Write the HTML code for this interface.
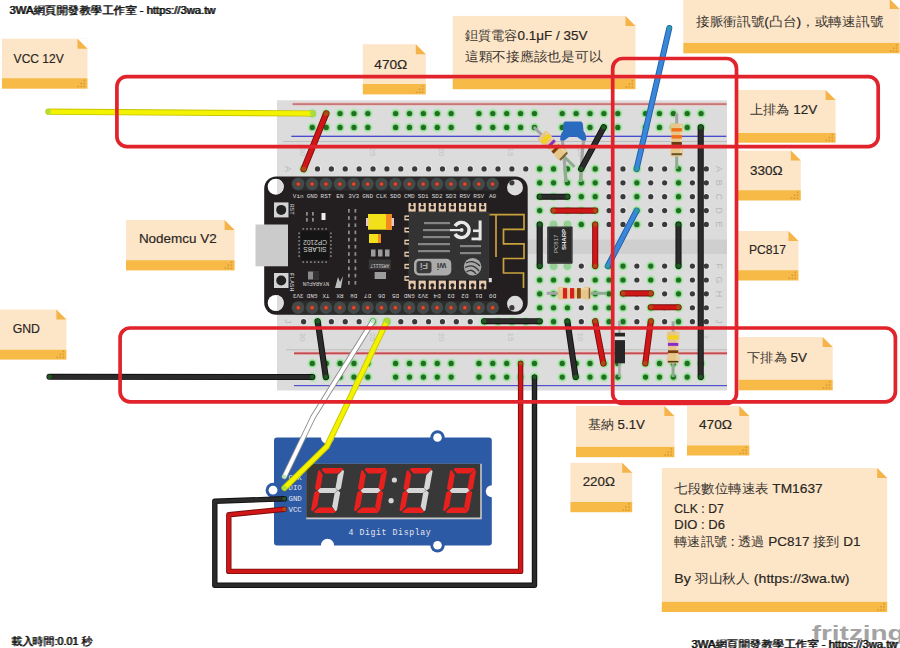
<!DOCTYPE html>
<html><head><meta charset="utf-8"><style>
html,body{margin:0;padding:0;background:#fff;width:900px;height:648px;overflow:hidden}
svg{display:block}

</style></head><body>
<svg width="900" height="648" viewBox="0 0 900 648" font-family="Liberation Sans, sans-serif">
<rect width="900" height="648" fill="#FFFFFF"/>
<text x="811.7" y="639.6" font-size="20.5" font-weight="bold" fill="#A3A3A3" textLength="93" lengthAdjust="spacingAndGlyphs">fritzing</text>
<rect x="277" y="100.3" width="450" height="290.2" fill="#DCDCDC"/>
<rect x="277" y="239.5" width="450" height="14.5" fill="#CFCFCF"/>
<rect x="292.6" y="102.4" width="434" height="3.4" fill="#EFC4C4"/>
<rect x="292.6" y="103.3" width="434" height="1.6" fill="#C07070"/>
<rect x="291.3" y="135.7" width="435" height="1.2" fill="#3A3ACC"/>
<rect x="283" y="141" width="444" height="1" fill="#BDBDBD"/>
<rect x="286" y="349.3" width="441" height="1" fill="#BDBDBD"/>
<rect x="294" y="351.6" width="433" height="3.4" fill="#F0B8B8"/>
<rect x="294" y="352.4" width="433" height="1.8" fill="#C04C54"/>
<rect x="294" y="385" width="433" height="1.2" fill="#5050CC"/>
<circle cx="312.30" cy="113.50" r="5" fill="#BEE6BE"/>
<circle cx="312.30" cy="113.50" r="3.8" fill="#8FD88F"/>
<circle cx="312.30" cy="113.50" r="2.6" fill="#1F6E22"/>
<circle cx="312.30" cy="127.40" r="5" fill="#BEE6BE"/>
<circle cx="312.30" cy="127.40" r="3.8" fill="#8FD88F"/>
<circle cx="312.30" cy="127.40" r="2.6" fill="#1F6E22"/>
<circle cx="312.30" cy="363.40" r="5" fill="#BEE6BE"/>
<circle cx="312.30" cy="363.40" r="3.8" fill="#8FD88F"/>
<circle cx="312.30" cy="363.40" r="2.6" fill="#1F6E22"/>
<circle cx="312.30" cy="377.10" r="5" fill="#BEE6BE"/>
<circle cx="312.30" cy="377.10" r="3.8" fill="#8FD88F"/>
<circle cx="312.30" cy="377.10" r="2.6" fill="#1F6E22"/>
<circle cx="326.19" cy="113.50" r="5" fill="#BEE6BE"/>
<circle cx="326.19" cy="113.50" r="3.8" fill="#8FD88F"/>
<circle cx="326.19" cy="113.50" r="2.6" fill="#1F6E22"/>
<circle cx="326.19" cy="127.40" r="5" fill="#BEE6BE"/>
<circle cx="326.19" cy="127.40" r="3.8" fill="#8FD88F"/>
<circle cx="326.19" cy="127.40" r="2.6" fill="#1F6E22"/>
<circle cx="326.19" cy="363.40" r="5" fill="#BEE6BE"/>
<circle cx="326.19" cy="363.40" r="3.8" fill="#8FD88F"/>
<circle cx="326.19" cy="363.40" r="2.6" fill="#1F6E22"/>
<circle cx="326.19" cy="377.10" r="5" fill="#BEE6BE"/>
<circle cx="326.19" cy="377.10" r="3.8" fill="#8FD88F"/>
<circle cx="326.19" cy="377.10" r="2.6" fill="#1F6E22"/>
<circle cx="340.07" cy="113.50" r="5" fill="#BEE6BE"/>
<circle cx="340.07" cy="113.50" r="3.8" fill="#8FD88F"/>
<circle cx="340.07" cy="113.50" r="2.6" fill="#1F6E22"/>
<circle cx="340.07" cy="127.40" r="5" fill="#BEE6BE"/>
<circle cx="340.07" cy="127.40" r="3.8" fill="#8FD88F"/>
<circle cx="340.07" cy="127.40" r="2.6" fill="#1F6E22"/>
<circle cx="340.07" cy="363.40" r="5" fill="#BEE6BE"/>
<circle cx="340.07" cy="363.40" r="3.8" fill="#8FD88F"/>
<circle cx="340.07" cy="363.40" r="2.6" fill="#1F6E22"/>
<circle cx="340.07" cy="377.10" r="5" fill="#BEE6BE"/>
<circle cx="340.07" cy="377.10" r="3.8" fill="#8FD88F"/>
<circle cx="340.07" cy="377.10" r="2.6" fill="#1F6E22"/>
<circle cx="353.96" cy="113.50" r="5" fill="#BEE6BE"/>
<circle cx="353.96" cy="113.50" r="3.8" fill="#8FD88F"/>
<circle cx="353.96" cy="113.50" r="2.6" fill="#1F6E22"/>
<circle cx="353.96" cy="127.40" r="5" fill="#BEE6BE"/>
<circle cx="353.96" cy="127.40" r="3.8" fill="#8FD88F"/>
<circle cx="353.96" cy="127.40" r="2.6" fill="#1F6E22"/>
<circle cx="353.96" cy="363.40" r="5" fill="#BEE6BE"/>
<circle cx="353.96" cy="363.40" r="3.8" fill="#8FD88F"/>
<circle cx="353.96" cy="363.40" r="2.6" fill="#1F6E22"/>
<circle cx="353.96" cy="377.10" r="5" fill="#BEE6BE"/>
<circle cx="353.96" cy="377.10" r="3.8" fill="#8FD88F"/>
<circle cx="353.96" cy="377.10" r="2.6" fill="#1F6E22"/>
<circle cx="367.84" cy="113.50" r="5" fill="#BEE6BE"/>
<circle cx="367.84" cy="113.50" r="3.8" fill="#8FD88F"/>
<circle cx="367.84" cy="113.50" r="2.6" fill="#1F6E22"/>
<circle cx="367.84" cy="127.40" r="5" fill="#BEE6BE"/>
<circle cx="367.84" cy="127.40" r="3.8" fill="#8FD88F"/>
<circle cx="367.84" cy="127.40" r="2.6" fill="#1F6E22"/>
<circle cx="367.84" cy="363.40" r="5" fill="#BEE6BE"/>
<circle cx="367.84" cy="363.40" r="3.8" fill="#8FD88F"/>
<circle cx="367.84" cy="363.40" r="2.6" fill="#1F6E22"/>
<circle cx="367.84" cy="377.10" r="5" fill="#BEE6BE"/>
<circle cx="367.84" cy="377.10" r="3.8" fill="#8FD88F"/>
<circle cx="367.84" cy="377.10" r="2.6" fill="#1F6E22"/>
<circle cx="395.62" cy="113.50" r="5" fill="#BEE6BE"/>
<circle cx="395.62" cy="113.50" r="3.8" fill="#8FD88F"/>
<circle cx="395.62" cy="113.50" r="2.6" fill="#1F6E22"/>
<circle cx="395.62" cy="127.40" r="5" fill="#BEE6BE"/>
<circle cx="395.62" cy="127.40" r="3.8" fill="#8FD88F"/>
<circle cx="395.62" cy="127.40" r="2.6" fill="#1F6E22"/>
<circle cx="395.62" cy="363.40" r="5" fill="#BEE6BE"/>
<circle cx="395.62" cy="363.40" r="3.8" fill="#8FD88F"/>
<circle cx="395.62" cy="363.40" r="2.6" fill="#1F6E22"/>
<circle cx="395.62" cy="377.10" r="5" fill="#BEE6BE"/>
<circle cx="395.62" cy="377.10" r="3.8" fill="#8FD88F"/>
<circle cx="395.62" cy="377.10" r="2.6" fill="#1F6E22"/>
<circle cx="409.50" cy="113.50" r="5" fill="#BEE6BE"/>
<circle cx="409.50" cy="113.50" r="3.8" fill="#8FD88F"/>
<circle cx="409.50" cy="113.50" r="2.6" fill="#1F6E22"/>
<circle cx="409.50" cy="127.40" r="5" fill="#BEE6BE"/>
<circle cx="409.50" cy="127.40" r="3.8" fill="#8FD88F"/>
<circle cx="409.50" cy="127.40" r="2.6" fill="#1F6E22"/>
<circle cx="409.50" cy="363.40" r="5" fill="#BEE6BE"/>
<circle cx="409.50" cy="363.40" r="3.8" fill="#8FD88F"/>
<circle cx="409.50" cy="363.40" r="2.6" fill="#1F6E22"/>
<circle cx="409.50" cy="377.10" r="5" fill="#BEE6BE"/>
<circle cx="409.50" cy="377.10" r="3.8" fill="#8FD88F"/>
<circle cx="409.50" cy="377.10" r="2.6" fill="#1F6E22"/>
<circle cx="423.39" cy="113.50" r="5" fill="#BEE6BE"/>
<circle cx="423.39" cy="113.50" r="3.8" fill="#8FD88F"/>
<circle cx="423.39" cy="113.50" r="2.6" fill="#1F6E22"/>
<circle cx="423.39" cy="127.40" r="5" fill="#BEE6BE"/>
<circle cx="423.39" cy="127.40" r="3.8" fill="#8FD88F"/>
<circle cx="423.39" cy="127.40" r="2.6" fill="#1F6E22"/>
<circle cx="423.39" cy="363.40" r="5" fill="#BEE6BE"/>
<circle cx="423.39" cy="363.40" r="3.8" fill="#8FD88F"/>
<circle cx="423.39" cy="363.40" r="2.6" fill="#1F6E22"/>
<circle cx="423.39" cy="377.10" r="5" fill="#BEE6BE"/>
<circle cx="423.39" cy="377.10" r="3.8" fill="#8FD88F"/>
<circle cx="423.39" cy="377.10" r="2.6" fill="#1F6E22"/>
<circle cx="437.27" cy="113.50" r="5" fill="#BEE6BE"/>
<circle cx="437.27" cy="113.50" r="3.8" fill="#8FD88F"/>
<circle cx="437.27" cy="113.50" r="2.6" fill="#1F6E22"/>
<circle cx="437.27" cy="127.40" r="5" fill="#BEE6BE"/>
<circle cx="437.27" cy="127.40" r="3.8" fill="#8FD88F"/>
<circle cx="437.27" cy="127.40" r="2.6" fill="#1F6E22"/>
<circle cx="437.27" cy="363.40" r="5" fill="#BEE6BE"/>
<circle cx="437.27" cy="363.40" r="3.8" fill="#8FD88F"/>
<circle cx="437.27" cy="363.40" r="2.6" fill="#1F6E22"/>
<circle cx="437.27" cy="377.10" r="5" fill="#BEE6BE"/>
<circle cx="437.27" cy="377.10" r="3.8" fill="#8FD88F"/>
<circle cx="437.27" cy="377.10" r="2.6" fill="#1F6E22"/>
<circle cx="451.16" cy="113.50" r="5" fill="#BEE6BE"/>
<circle cx="451.16" cy="113.50" r="3.8" fill="#8FD88F"/>
<circle cx="451.16" cy="113.50" r="2.6" fill="#1F6E22"/>
<circle cx="451.16" cy="127.40" r="5" fill="#BEE6BE"/>
<circle cx="451.16" cy="127.40" r="3.8" fill="#8FD88F"/>
<circle cx="451.16" cy="127.40" r="2.6" fill="#1F6E22"/>
<circle cx="451.16" cy="363.40" r="5" fill="#BEE6BE"/>
<circle cx="451.16" cy="363.40" r="3.8" fill="#8FD88F"/>
<circle cx="451.16" cy="363.40" r="2.6" fill="#1F6E22"/>
<circle cx="451.16" cy="377.10" r="5" fill="#BEE6BE"/>
<circle cx="451.16" cy="377.10" r="3.8" fill="#8FD88F"/>
<circle cx="451.16" cy="377.10" r="2.6" fill="#1F6E22"/>
<circle cx="478.93" cy="113.50" r="5" fill="#BEE6BE"/>
<circle cx="478.93" cy="113.50" r="3.8" fill="#8FD88F"/>
<circle cx="478.93" cy="113.50" r="2.6" fill="#1F6E22"/>
<circle cx="478.93" cy="127.40" r="5" fill="#BEE6BE"/>
<circle cx="478.93" cy="127.40" r="3.8" fill="#8FD88F"/>
<circle cx="478.93" cy="127.40" r="2.6" fill="#1F6E22"/>
<circle cx="478.93" cy="363.40" r="5" fill="#BEE6BE"/>
<circle cx="478.93" cy="363.40" r="3.8" fill="#8FD88F"/>
<circle cx="478.93" cy="363.40" r="2.6" fill="#1F6E22"/>
<circle cx="478.93" cy="377.10" r="5" fill="#BEE6BE"/>
<circle cx="478.93" cy="377.10" r="3.8" fill="#8FD88F"/>
<circle cx="478.93" cy="377.10" r="2.6" fill="#1F6E22"/>
<circle cx="492.82" cy="113.50" r="5" fill="#BEE6BE"/>
<circle cx="492.82" cy="113.50" r="3.8" fill="#8FD88F"/>
<circle cx="492.82" cy="113.50" r="2.6" fill="#1F6E22"/>
<circle cx="492.82" cy="127.40" r="5" fill="#BEE6BE"/>
<circle cx="492.82" cy="127.40" r="3.8" fill="#8FD88F"/>
<circle cx="492.82" cy="127.40" r="2.6" fill="#1F6E22"/>
<circle cx="492.82" cy="363.40" r="5" fill="#BEE6BE"/>
<circle cx="492.82" cy="363.40" r="3.8" fill="#8FD88F"/>
<circle cx="492.82" cy="363.40" r="2.6" fill="#1F6E22"/>
<circle cx="492.82" cy="377.10" r="5" fill="#BEE6BE"/>
<circle cx="492.82" cy="377.10" r="3.8" fill="#8FD88F"/>
<circle cx="492.82" cy="377.10" r="2.6" fill="#1F6E22"/>
<circle cx="506.70" cy="113.50" r="5" fill="#BEE6BE"/>
<circle cx="506.70" cy="113.50" r="3.8" fill="#8FD88F"/>
<circle cx="506.70" cy="113.50" r="2.6" fill="#1F6E22"/>
<circle cx="506.70" cy="127.40" r="5" fill="#BEE6BE"/>
<circle cx="506.70" cy="127.40" r="3.8" fill="#8FD88F"/>
<circle cx="506.70" cy="127.40" r="2.6" fill="#1F6E22"/>
<circle cx="506.70" cy="363.40" r="5" fill="#BEE6BE"/>
<circle cx="506.70" cy="363.40" r="3.8" fill="#8FD88F"/>
<circle cx="506.70" cy="363.40" r="2.6" fill="#1F6E22"/>
<circle cx="506.70" cy="377.10" r="5" fill="#BEE6BE"/>
<circle cx="506.70" cy="377.10" r="3.8" fill="#8FD88F"/>
<circle cx="506.70" cy="377.10" r="2.6" fill="#1F6E22"/>
<circle cx="520.59" cy="113.50" r="5" fill="#BEE6BE"/>
<circle cx="520.59" cy="113.50" r="3.8" fill="#8FD88F"/>
<circle cx="520.59" cy="113.50" r="2.6" fill="#1F6E22"/>
<circle cx="520.59" cy="127.40" r="5" fill="#BEE6BE"/>
<circle cx="520.59" cy="127.40" r="3.8" fill="#8FD88F"/>
<circle cx="520.59" cy="127.40" r="2.6" fill="#1F6E22"/>
<circle cx="520.59" cy="363.40" r="5" fill="#BEE6BE"/>
<circle cx="520.59" cy="363.40" r="3.8" fill="#8FD88F"/>
<circle cx="520.59" cy="363.40" r="2.6" fill="#1F6E22"/>
<circle cx="520.59" cy="377.10" r="5" fill="#BEE6BE"/>
<circle cx="520.59" cy="377.10" r="3.8" fill="#8FD88F"/>
<circle cx="520.59" cy="377.10" r="2.6" fill="#1F6E22"/>
<circle cx="534.48" cy="113.50" r="5" fill="#BEE6BE"/>
<circle cx="534.48" cy="113.50" r="3.8" fill="#8FD88F"/>
<circle cx="534.48" cy="113.50" r="2.6" fill="#1F6E22"/>
<circle cx="534.48" cy="127.40" r="5" fill="#BEE6BE"/>
<circle cx="534.48" cy="127.40" r="3.8" fill="#8FD88F"/>
<circle cx="534.48" cy="127.40" r="2.6" fill="#1F6E22"/>
<circle cx="534.48" cy="363.40" r="5" fill="#BEE6BE"/>
<circle cx="534.48" cy="363.40" r="3.8" fill="#8FD88F"/>
<circle cx="534.48" cy="363.40" r="2.6" fill="#1F6E22"/>
<circle cx="534.48" cy="377.10" r="5" fill="#BEE6BE"/>
<circle cx="534.48" cy="377.10" r="3.8" fill="#8FD88F"/>
<circle cx="534.48" cy="377.10" r="2.6" fill="#1F6E22"/>
<circle cx="562.25" cy="113.50" r="5" fill="#BEE6BE"/>
<circle cx="562.25" cy="113.50" r="3.8" fill="#8FD88F"/>
<circle cx="562.25" cy="113.50" r="2.6" fill="#1F6E22"/>
<circle cx="562.25" cy="127.40" r="5" fill="#BEE6BE"/>
<circle cx="562.25" cy="127.40" r="3.8" fill="#8FD88F"/>
<circle cx="562.25" cy="127.40" r="2.6" fill="#1F6E22"/>
<circle cx="562.25" cy="363.40" r="5" fill="#BEE6BE"/>
<circle cx="562.25" cy="363.40" r="3.8" fill="#8FD88F"/>
<circle cx="562.25" cy="363.40" r="2.6" fill="#1F6E22"/>
<circle cx="562.25" cy="377.10" r="5" fill="#BEE6BE"/>
<circle cx="562.25" cy="377.10" r="3.8" fill="#8FD88F"/>
<circle cx="562.25" cy="377.10" r="2.6" fill="#1F6E22"/>
<circle cx="576.13" cy="113.50" r="5" fill="#BEE6BE"/>
<circle cx="576.13" cy="113.50" r="3.8" fill="#8FD88F"/>
<circle cx="576.13" cy="113.50" r="2.6" fill="#1F6E22"/>
<circle cx="576.13" cy="127.40" r="5" fill="#BEE6BE"/>
<circle cx="576.13" cy="127.40" r="3.8" fill="#8FD88F"/>
<circle cx="576.13" cy="127.40" r="2.6" fill="#1F6E22"/>
<circle cx="576.13" cy="363.40" r="5" fill="#BEE6BE"/>
<circle cx="576.13" cy="363.40" r="3.8" fill="#8FD88F"/>
<circle cx="576.13" cy="363.40" r="2.6" fill="#1F6E22"/>
<circle cx="576.13" cy="377.10" r="5" fill="#BEE6BE"/>
<circle cx="576.13" cy="377.10" r="3.8" fill="#8FD88F"/>
<circle cx="576.13" cy="377.10" r="2.6" fill="#1F6E22"/>
<circle cx="590.02" cy="113.50" r="5" fill="#BEE6BE"/>
<circle cx="590.02" cy="113.50" r="3.8" fill="#8FD88F"/>
<circle cx="590.02" cy="113.50" r="2.6" fill="#1F6E22"/>
<circle cx="590.02" cy="127.40" r="5" fill="#BEE6BE"/>
<circle cx="590.02" cy="127.40" r="3.8" fill="#8FD88F"/>
<circle cx="590.02" cy="127.40" r="2.6" fill="#1F6E22"/>
<circle cx="590.02" cy="363.40" r="5" fill="#BEE6BE"/>
<circle cx="590.02" cy="363.40" r="3.8" fill="#8FD88F"/>
<circle cx="590.02" cy="363.40" r="2.6" fill="#1F6E22"/>
<circle cx="590.02" cy="377.10" r="5" fill="#BEE6BE"/>
<circle cx="590.02" cy="377.10" r="3.8" fill="#8FD88F"/>
<circle cx="590.02" cy="377.10" r="2.6" fill="#1F6E22"/>
<circle cx="603.91" cy="113.50" r="5" fill="#BEE6BE"/>
<circle cx="603.91" cy="113.50" r="3.8" fill="#8FD88F"/>
<circle cx="603.91" cy="113.50" r="2.6" fill="#1F6E22"/>
<circle cx="603.91" cy="127.40" r="5" fill="#BEE6BE"/>
<circle cx="603.91" cy="127.40" r="3.8" fill="#8FD88F"/>
<circle cx="603.91" cy="127.40" r="2.6" fill="#1F6E22"/>
<circle cx="603.91" cy="363.40" r="5" fill="#BEE6BE"/>
<circle cx="603.91" cy="363.40" r="3.8" fill="#8FD88F"/>
<circle cx="603.91" cy="363.40" r="2.6" fill="#1F6E22"/>
<circle cx="603.91" cy="377.10" r="5" fill="#BEE6BE"/>
<circle cx="603.91" cy="377.10" r="3.8" fill="#8FD88F"/>
<circle cx="603.91" cy="377.10" r="2.6" fill="#1F6E22"/>
<circle cx="617.79" cy="113.50" r="5" fill="#BEE6BE"/>
<circle cx="617.79" cy="113.50" r="3.8" fill="#8FD88F"/>
<circle cx="617.79" cy="113.50" r="2.6" fill="#1F6E22"/>
<circle cx="617.79" cy="127.40" r="5" fill="#BEE6BE"/>
<circle cx="617.79" cy="127.40" r="3.8" fill="#8FD88F"/>
<circle cx="617.79" cy="127.40" r="2.6" fill="#1F6E22"/>
<circle cx="617.79" cy="363.40" r="5" fill="#BEE6BE"/>
<circle cx="617.79" cy="363.40" r="3.8" fill="#8FD88F"/>
<circle cx="617.79" cy="363.40" r="2.6" fill="#1F6E22"/>
<circle cx="617.79" cy="377.10" r="5" fill="#BEE6BE"/>
<circle cx="617.79" cy="377.10" r="3.8" fill="#8FD88F"/>
<circle cx="617.79" cy="377.10" r="2.6" fill="#1F6E22"/>
<circle cx="645.56" cy="113.50" r="5" fill="#BEE6BE"/>
<circle cx="645.56" cy="113.50" r="3.8" fill="#8FD88F"/>
<circle cx="645.56" cy="113.50" r="2.6" fill="#1F6E22"/>
<circle cx="645.56" cy="127.40" r="5" fill="#BEE6BE"/>
<circle cx="645.56" cy="127.40" r="3.8" fill="#8FD88F"/>
<circle cx="645.56" cy="127.40" r="2.6" fill="#1F6E22"/>
<circle cx="645.56" cy="363.40" r="5" fill="#BEE6BE"/>
<circle cx="645.56" cy="363.40" r="3.8" fill="#8FD88F"/>
<circle cx="645.56" cy="363.40" r="2.6" fill="#1F6E22"/>
<circle cx="645.56" cy="377.10" r="5" fill="#BEE6BE"/>
<circle cx="645.56" cy="377.10" r="3.8" fill="#8FD88F"/>
<circle cx="645.56" cy="377.10" r="2.6" fill="#1F6E22"/>
<circle cx="659.45" cy="113.50" r="5" fill="#BEE6BE"/>
<circle cx="659.45" cy="113.50" r="3.8" fill="#8FD88F"/>
<circle cx="659.45" cy="113.50" r="2.6" fill="#1F6E22"/>
<circle cx="659.45" cy="127.40" r="5" fill="#BEE6BE"/>
<circle cx="659.45" cy="127.40" r="3.8" fill="#8FD88F"/>
<circle cx="659.45" cy="127.40" r="2.6" fill="#1F6E22"/>
<circle cx="659.45" cy="363.40" r="5" fill="#BEE6BE"/>
<circle cx="659.45" cy="363.40" r="3.8" fill="#8FD88F"/>
<circle cx="659.45" cy="363.40" r="2.6" fill="#1F6E22"/>
<circle cx="659.45" cy="377.10" r="5" fill="#BEE6BE"/>
<circle cx="659.45" cy="377.10" r="3.8" fill="#8FD88F"/>
<circle cx="659.45" cy="377.10" r="2.6" fill="#1F6E22"/>
<circle cx="673.34" cy="113.50" r="5" fill="#BEE6BE"/>
<circle cx="673.34" cy="113.50" r="3.8" fill="#8FD88F"/>
<circle cx="673.34" cy="113.50" r="2.6" fill="#1F6E22"/>
<circle cx="673.34" cy="127.40" r="5" fill="#BEE6BE"/>
<circle cx="673.34" cy="127.40" r="3.8" fill="#8FD88F"/>
<circle cx="673.34" cy="127.40" r="2.6" fill="#1F6E22"/>
<circle cx="673.34" cy="363.40" r="5" fill="#BEE6BE"/>
<circle cx="673.34" cy="363.40" r="3.8" fill="#8FD88F"/>
<circle cx="673.34" cy="363.40" r="2.6" fill="#1F6E22"/>
<circle cx="673.34" cy="377.10" r="5" fill="#BEE6BE"/>
<circle cx="673.34" cy="377.10" r="3.8" fill="#8FD88F"/>
<circle cx="673.34" cy="377.10" r="2.6" fill="#1F6E22"/>
<circle cx="687.22" cy="113.50" r="5" fill="#BEE6BE"/>
<circle cx="687.22" cy="113.50" r="3.8" fill="#8FD88F"/>
<circle cx="687.22" cy="113.50" r="2.6" fill="#1F6E22"/>
<circle cx="687.22" cy="127.40" r="5" fill="#BEE6BE"/>
<circle cx="687.22" cy="127.40" r="3.8" fill="#8FD88F"/>
<circle cx="687.22" cy="127.40" r="2.6" fill="#1F6E22"/>
<circle cx="687.22" cy="363.40" r="5" fill="#BEE6BE"/>
<circle cx="687.22" cy="363.40" r="3.8" fill="#8FD88F"/>
<circle cx="687.22" cy="363.40" r="2.6" fill="#1F6E22"/>
<circle cx="687.22" cy="377.10" r="5" fill="#BEE6BE"/>
<circle cx="687.22" cy="377.10" r="3.8" fill="#8FD88F"/>
<circle cx="687.22" cy="377.10" r="2.6" fill="#1F6E22"/>
<circle cx="701.11" cy="113.50" r="5" fill="#BEE6BE"/>
<circle cx="701.11" cy="113.50" r="3.8" fill="#8FD88F"/>
<circle cx="701.11" cy="113.50" r="2.6" fill="#1F6E22"/>
<circle cx="701.11" cy="127.40" r="5" fill="#BEE6BE"/>
<circle cx="701.11" cy="127.40" r="3.8" fill="#8FD88F"/>
<circle cx="701.11" cy="127.40" r="2.6" fill="#1F6E22"/>
<circle cx="701.11" cy="363.40" r="5" fill="#BEE6BE"/>
<circle cx="701.11" cy="363.40" r="3.8" fill="#8FD88F"/>
<circle cx="701.11" cy="363.40" r="2.6" fill="#1F6E22"/>
<circle cx="701.11" cy="377.10" r="5" fill="#BEE6BE"/>
<circle cx="701.11" cy="377.10" r="3.8" fill="#8FD88F"/>
<circle cx="701.11" cy="377.10" r="2.6" fill="#1F6E22"/>
<circle cx="303.60" cy="168.90" r="5" fill="#BEE6BE"/>
<circle cx="303.60" cy="168.90" r="3.8" fill="#8FD88F"/>
<circle cx="303.60" cy="168.90" r="2.6" fill="#1F6E22"/>
<circle cx="317.89" cy="168.70" r="3.4" fill="#E9E9E9"/>
<circle cx="317.49" cy="168.90" r="2.6" fill="#3A3A3A"/>
<circle cx="331.77" cy="168.70" r="3.4" fill="#E9E9E9"/>
<circle cx="331.37" cy="168.90" r="2.6" fill="#3A3A3A"/>
<circle cx="345.66" cy="168.70" r="3.4" fill="#E9E9E9"/>
<circle cx="345.26" cy="168.90" r="2.6" fill="#3A3A3A"/>
<circle cx="359.54" cy="168.70" r="3.4" fill="#E9E9E9"/>
<circle cx="359.14" cy="168.90" r="2.6" fill="#3A3A3A"/>
<circle cx="373.43" cy="168.70" r="3.4" fill="#E9E9E9"/>
<circle cx="373.03" cy="168.90" r="2.6" fill="#3A3A3A"/>
<circle cx="387.32" cy="168.70" r="3.4" fill="#E9E9E9"/>
<circle cx="386.92" cy="168.90" r="2.6" fill="#3A3A3A"/>
<circle cx="401.20" cy="168.70" r="3.4" fill="#E9E9E9"/>
<circle cx="400.80" cy="168.90" r="2.6" fill="#3A3A3A"/>
<circle cx="415.09" cy="168.70" r="3.4" fill="#E9E9E9"/>
<circle cx="414.69" cy="168.90" r="2.6" fill="#3A3A3A"/>
<circle cx="428.97" cy="168.70" r="3.4" fill="#E9E9E9"/>
<circle cx="428.57" cy="168.90" r="2.6" fill="#3A3A3A"/>
<circle cx="442.86" cy="168.70" r="3.4" fill="#E9E9E9"/>
<circle cx="442.46" cy="168.90" r="2.6" fill="#3A3A3A"/>
<circle cx="456.75" cy="168.70" r="3.4" fill="#E9E9E9"/>
<circle cx="456.35" cy="168.90" r="2.6" fill="#3A3A3A"/>
<circle cx="470.63" cy="168.70" r="3.4" fill="#E9E9E9"/>
<circle cx="470.23" cy="168.90" r="2.6" fill="#3A3A3A"/>
<circle cx="484.52" cy="168.70" r="3.4" fill="#E9E9E9"/>
<circle cx="484.12" cy="168.90" r="2.6" fill="#3A3A3A"/>
<circle cx="498.40" cy="168.70" r="3.4" fill="#E9E9E9"/>
<circle cx="498.00" cy="168.90" r="2.6" fill="#3A3A3A"/>
<circle cx="512.29" cy="168.70" r="3.4" fill="#E9E9E9"/>
<circle cx="511.89" cy="168.90" r="2.6" fill="#3A3A3A"/>
<circle cx="526.18" cy="168.70" r="3.4" fill="#E9E9E9"/>
<circle cx="525.78" cy="168.90" r="2.6" fill="#3A3A3A"/>
<circle cx="539.66" cy="168.90" r="5" fill="#BEE6BE"/>
<circle cx="539.66" cy="168.90" r="3.8" fill="#8FD88F"/>
<circle cx="539.66" cy="168.90" r="2.6" fill="#1F6E22"/>
<circle cx="553.55" cy="168.90" r="5" fill="#BEE6BE"/>
<circle cx="553.55" cy="168.90" r="3.8" fill="#8FD88F"/>
<circle cx="553.55" cy="168.90" r="2.6" fill="#1F6E22"/>
<circle cx="567.43" cy="168.90" r="5" fill="#BEE6BE"/>
<circle cx="567.43" cy="168.90" r="3.8" fill="#8FD88F"/>
<circle cx="567.43" cy="168.90" r="2.6" fill="#1F6E22"/>
<circle cx="581.32" cy="168.90" r="5" fill="#BEE6BE"/>
<circle cx="581.32" cy="168.90" r="3.8" fill="#8FD88F"/>
<circle cx="581.32" cy="168.90" r="2.6" fill="#1F6E22"/>
<circle cx="595.21" cy="168.90" r="5" fill="#BEE6BE"/>
<circle cx="595.21" cy="168.90" r="3.8" fill="#8FD88F"/>
<circle cx="595.21" cy="168.90" r="2.6" fill="#1F6E22"/>
<circle cx="609.49" cy="168.70" r="3.4" fill="#E9E9E9"/>
<circle cx="609.09" cy="168.90" r="2.6" fill="#3A3A3A"/>
<circle cx="623.38" cy="168.70" r="3.4" fill="#E9E9E9"/>
<circle cx="622.98" cy="168.90" r="2.6" fill="#3A3A3A"/>
<circle cx="636.86" cy="168.90" r="5" fill="#BEE6BE"/>
<circle cx="636.86" cy="168.90" r="3.8" fill="#8FD88F"/>
<circle cx="636.86" cy="168.90" r="2.6" fill="#1F6E22"/>
<circle cx="651.15" cy="168.70" r="3.4" fill="#E9E9E9"/>
<circle cx="650.75" cy="168.90" r="2.6" fill="#3A3A3A"/>
<circle cx="665.04" cy="168.70" r="3.4" fill="#E9E9E9"/>
<circle cx="664.64" cy="168.90" r="2.6" fill="#3A3A3A"/>
<circle cx="678.52" cy="168.90" r="5" fill="#BEE6BE"/>
<circle cx="678.52" cy="168.90" r="3.8" fill="#8FD88F"/>
<circle cx="678.52" cy="168.90" r="2.6" fill="#1F6E22"/>
<circle cx="692.81" cy="168.70" r="3.4" fill="#E9E9E9"/>
<circle cx="692.41" cy="168.90" r="2.6" fill="#3A3A3A"/>
<circle cx="706.69" cy="168.70" r="3.4" fill="#E9E9E9"/>
<circle cx="706.29" cy="168.90" r="2.6" fill="#3A3A3A"/>
<circle cx="539.66" cy="182.79" r="5" fill="#BEE6BE"/>
<circle cx="539.66" cy="182.79" r="3.8" fill="#8FD88F"/>
<circle cx="539.66" cy="182.79" r="2.6" fill="#1F6E22"/>
<circle cx="553.55" cy="182.79" r="5" fill="#BEE6BE"/>
<circle cx="553.55" cy="182.79" r="3.8" fill="#8FD88F"/>
<circle cx="553.55" cy="182.79" r="2.6" fill="#1F6E22"/>
<circle cx="567.43" cy="182.79" r="5" fill="#BEE6BE"/>
<circle cx="567.43" cy="182.79" r="3.8" fill="#8FD88F"/>
<circle cx="567.43" cy="182.79" r="2.6" fill="#1F6E22"/>
<circle cx="581.32" cy="182.79" r="5" fill="#BEE6BE"/>
<circle cx="581.32" cy="182.79" r="3.8" fill="#8FD88F"/>
<circle cx="581.32" cy="182.79" r="2.6" fill="#1F6E22"/>
<circle cx="595.21" cy="182.79" r="5" fill="#BEE6BE"/>
<circle cx="595.21" cy="182.79" r="3.8" fill="#8FD88F"/>
<circle cx="595.21" cy="182.79" r="2.6" fill="#1F6E22"/>
<circle cx="609.49" cy="182.59" r="3.4" fill="#E9E9E9"/>
<circle cx="609.09" cy="182.79" r="2.6" fill="#3A3A3A"/>
<circle cx="623.38" cy="182.59" r="3.4" fill="#E9E9E9"/>
<circle cx="622.98" cy="182.79" r="2.6" fill="#3A3A3A"/>
<circle cx="636.86" cy="182.79" r="5" fill="#BEE6BE"/>
<circle cx="636.86" cy="182.79" r="3.8" fill="#8FD88F"/>
<circle cx="636.86" cy="182.79" r="2.6" fill="#1F6E22"/>
<circle cx="651.15" cy="182.59" r="3.4" fill="#E9E9E9"/>
<circle cx="650.75" cy="182.79" r="2.6" fill="#3A3A3A"/>
<circle cx="665.04" cy="182.59" r="3.4" fill="#E9E9E9"/>
<circle cx="664.64" cy="182.79" r="2.6" fill="#3A3A3A"/>
<circle cx="678.52" cy="182.79" r="5" fill="#BEE6BE"/>
<circle cx="678.52" cy="182.79" r="3.8" fill="#8FD88F"/>
<circle cx="678.52" cy="182.79" r="2.6" fill="#1F6E22"/>
<circle cx="692.81" cy="182.59" r="3.4" fill="#E9E9E9"/>
<circle cx="692.41" cy="182.79" r="2.6" fill="#3A3A3A"/>
<circle cx="706.69" cy="182.59" r="3.4" fill="#E9E9E9"/>
<circle cx="706.29" cy="182.79" r="2.6" fill="#3A3A3A"/>
<circle cx="539.66" cy="196.67" r="5" fill="#BEE6BE"/>
<circle cx="539.66" cy="196.67" r="3.8" fill="#8FD88F"/>
<circle cx="539.66" cy="196.67" r="2.6" fill="#1F6E22"/>
<circle cx="553.55" cy="196.67" r="5" fill="#BEE6BE"/>
<circle cx="553.55" cy="196.67" r="3.8" fill="#8FD88F"/>
<circle cx="553.55" cy="196.67" r="2.6" fill="#1F6E22"/>
<circle cx="567.43" cy="196.67" r="5" fill="#BEE6BE"/>
<circle cx="567.43" cy="196.67" r="3.8" fill="#8FD88F"/>
<circle cx="567.43" cy="196.67" r="2.6" fill="#1F6E22"/>
<circle cx="581.32" cy="196.67" r="5" fill="#BEE6BE"/>
<circle cx="581.32" cy="196.67" r="3.8" fill="#8FD88F"/>
<circle cx="581.32" cy="196.67" r="2.6" fill="#1F6E22"/>
<circle cx="595.21" cy="196.67" r="5" fill="#BEE6BE"/>
<circle cx="595.21" cy="196.67" r="3.8" fill="#8FD88F"/>
<circle cx="595.21" cy="196.67" r="2.6" fill="#1F6E22"/>
<circle cx="609.49" cy="196.47" r="3.4" fill="#E9E9E9"/>
<circle cx="609.09" cy="196.67" r="2.6" fill="#3A3A3A"/>
<circle cx="623.38" cy="196.47" r="3.4" fill="#E9E9E9"/>
<circle cx="622.98" cy="196.67" r="2.6" fill="#3A3A3A"/>
<circle cx="636.86" cy="196.67" r="5" fill="#BEE6BE"/>
<circle cx="636.86" cy="196.67" r="3.8" fill="#8FD88F"/>
<circle cx="636.86" cy="196.67" r="2.6" fill="#1F6E22"/>
<circle cx="651.15" cy="196.47" r="3.4" fill="#E9E9E9"/>
<circle cx="650.75" cy="196.67" r="2.6" fill="#3A3A3A"/>
<circle cx="665.04" cy="196.47" r="3.4" fill="#E9E9E9"/>
<circle cx="664.64" cy="196.67" r="2.6" fill="#3A3A3A"/>
<circle cx="678.52" cy="196.67" r="5" fill="#BEE6BE"/>
<circle cx="678.52" cy="196.67" r="3.8" fill="#8FD88F"/>
<circle cx="678.52" cy="196.67" r="2.6" fill="#1F6E22"/>
<circle cx="692.81" cy="196.47" r="3.4" fill="#E9E9E9"/>
<circle cx="692.41" cy="196.67" r="2.6" fill="#3A3A3A"/>
<circle cx="706.69" cy="196.47" r="3.4" fill="#E9E9E9"/>
<circle cx="706.29" cy="196.67" r="2.6" fill="#3A3A3A"/>
<circle cx="539.66" cy="210.56" r="5" fill="#BEE6BE"/>
<circle cx="539.66" cy="210.56" r="3.8" fill="#8FD88F"/>
<circle cx="539.66" cy="210.56" r="2.6" fill="#1F6E22"/>
<circle cx="553.55" cy="210.56" r="5" fill="#BEE6BE"/>
<circle cx="553.55" cy="210.56" r="3.8" fill="#8FD88F"/>
<circle cx="553.55" cy="210.56" r="2.6" fill="#1F6E22"/>
<circle cx="567.43" cy="210.56" r="5" fill="#BEE6BE"/>
<circle cx="567.43" cy="210.56" r="3.8" fill="#8FD88F"/>
<circle cx="567.43" cy="210.56" r="2.6" fill="#1F6E22"/>
<circle cx="581.32" cy="210.56" r="5" fill="#BEE6BE"/>
<circle cx="581.32" cy="210.56" r="3.8" fill="#8FD88F"/>
<circle cx="581.32" cy="210.56" r="2.6" fill="#1F6E22"/>
<circle cx="595.21" cy="210.56" r="5" fill="#BEE6BE"/>
<circle cx="595.21" cy="210.56" r="3.8" fill="#8FD88F"/>
<circle cx="595.21" cy="210.56" r="2.6" fill="#1F6E22"/>
<circle cx="609.49" cy="210.36" r="3.4" fill="#E9E9E9"/>
<circle cx="609.09" cy="210.56" r="2.6" fill="#3A3A3A"/>
<circle cx="623.38" cy="210.36" r="3.4" fill="#E9E9E9"/>
<circle cx="622.98" cy="210.56" r="2.6" fill="#3A3A3A"/>
<circle cx="636.86" cy="210.56" r="5" fill="#BEE6BE"/>
<circle cx="636.86" cy="210.56" r="3.8" fill="#8FD88F"/>
<circle cx="636.86" cy="210.56" r="2.6" fill="#1F6E22"/>
<circle cx="651.15" cy="210.36" r="3.4" fill="#E9E9E9"/>
<circle cx="650.75" cy="210.56" r="2.6" fill="#3A3A3A"/>
<circle cx="665.04" cy="210.36" r="3.4" fill="#E9E9E9"/>
<circle cx="664.64" cy="210.56" r="2.6" fill="#3A3A3A"/>
<circle cx="678.52" cy="210.56" r="5" fill="#BEE6BE"/>
<circle cx="678.52" cy="210.56" r="3.8" fill="#8FD88F"/>
<circle cx="678.52" cy="210.56" r="2.6" fill="#1F6E22"/>
<circle cx="692.81" cy="210.36" r="3.4" fill="#E9E9E9"/>
<circle cx="692.41" cy="210.56" r="2.6" fill="#3A3A3A"/>
<circle cx="706.69" cy="210.36" r="3.4" fill="#E9E9E9"/>
<circle cx="706.29" cy="210.56" r="2.6" fill="#3A3A3A"/>
<circle cx="539.66" cy="224.44" r="5" fill="#BEE6BE"/>
<circle cx="539.66" cy="224.44" r="3.8" fill="#8FD88F"/>
<circle cx="539.66" cy="224.44" r="2.6" fill="#1F6E22"/>
<circle cx="553.55" cy="224.44" r="5" fill="#BEE6BE"/>
<circle cx="553.55" cy="224.44" r="3.8" fill="#8FD88F"/>
<circle cx="553.55" cy="224.44" r="2.6" fill="#1F6E22"/>
<circle cx="567.43" cy="224.44" r="5" fill="#BEE6BE"/>
<circle cx="567.43" cy="224.44" r="3.8" fill="#8FD88F"/>
<circle cx="567.43" cy="224.44" r="2.6" fill="#1F6E22"/>
<circle cx="581.32" cy="224.44" r="5" fill="#BEE6BE"/>
<circle cx="581.32" cy="224.44" r="3.8" fill="#8FD88F"/>
<circle cx="581.32" cy="224.44" r="2.6" fill="#1F6E22"/>
<circle cx="595.21" cy="224.44" r="5" fill="#BEE6BE"/>
<circle cx="595.21" cy="224.44" r="3.8" fill="#8FD88F"/>
<circle cx="595.21" cy="224.44" r="2.6" fill="#1F6E22"/>
<circle cx="609.49" cy="224.24" r="3.4" fill="#E9E9E9"/>
<circle cx="609.09" cy="224.44" r="2.6" fill="#3A3A3A"/>
<circle cx="623.38" cy="224.24" r="3.4" fill="#E9E9E9"/>
<circle cx="622.98" cy="224.44" r="2.6" fill="#3A3A3A"/>
<circle cx="636.86" cy="224.44" r="5" fill="#BEE6BE"/>
<circle cx="636.86" cy="224.44" r="3.8" fill="#8FD88F"/>
<circle cx="636.86" cy="224.44" r="2.6" fill="#1F6E22"/>
<circle cx="651.15" cy="224.24" r="3.4" fill="#E9E9E9"/>
<circle cx="650.75" cy="224.44" r="2.6" fill="#3A3A3A"/>
<circle cx="665.04" cy="224.24" r="3.4" fill="#E9E9E9"/>
<circle cx="664.64" cy="224.44" r="2.6" fill="#3A3A3A"/>
<circle cx="678.52" cy="224.44" r="5" fill="#BEE6BE"/>
<circle cx="678.52" cy="224.44" r="3.8" fill="#8FD88F"/>
<circle cx="678.52" cy="224.44" r="2.6" fill="#1F6E22"/>
<circle cx="692.81" cy="224.24" r="3.4" fill="#E9E9E9"/>
<circle cx="692.41" cy="224.44" r="2.6" fill="#3A3A3A"/>
<circle cx="706.69" cy="224.24" r="3.4" fill="#E9E9E9"/>
<circle cx="706.29" cy="224.44" r="2.6" fill="#3A3A3A"/>
<circle cx="539.66" cy="266.10" r="5" fill="#BEE6BE"/>
<circle cx="539.66" cy="266.10" r="3.8" fill="#8FD88F"/>
<circle cx="539.66" cy="266.10" r="2.6" fill="#1F6E22"/>
<circle cx="553.55" cy="266.10" r="5" fill="#BEE6BE"/>
<circle cx="553.55" cy="266.10" r="3.8" fill="#8FD88F"/>
<circle cx="553.55" cy="266.10" r="2.6" fill="#1F6E22"/>
<circle cx="567.43" cy="266.10" r="5" fill="#BEE6BE"/>
<circle cx="567.43" cy="266.10" r="3.8" fill="#8FD88F"/>
<circle cx="567.43" cy="266.10" r="2.6" fill="#1F6E22"/>
<circle cx="581.72" cy="265.90" r="3.4" fill="#E9E9E9"/>
<circle cx="581.32" cy="266.10" r="2.6" fill="#3A3A3A"/>
<circle cx="595.21" cy="266.10" r="5" fill="#BEE6BE"/>
<circle cx="595.21" cy="266.10" r="3.8" fill="#8FD88F"/>
<circle cx="595.21" cy="266.10" r="2.6" fill="#1F6E22"/>
<circle cx="609.09" cy="266.10" r="5" fill="#BEE6BE"/>
<circle cx="609.09" cy="266.10" r="3.8" fill="#8FD88F"/>
<circle cx="609.09" cy="266.10" r="2.6" fill="#1F6E22"/>
<circle cx="622.98" cy="266.10" r="5" fill="#BEE6BE"/>
<circle cx="622.98" cy="266.10" r="3.8" fill="#8FD88F"/>
<circle cx="622.98" cy="266.10" r="2.6" fill="#1F6E22"/>
<circle cx="637.26" cy="265.90" r="3.4" fill="#E9E9E9"/>
<circle cx="636.86" cy="266.10" r="2.6" fill="#3A3A3A"/>
<circle cx="650.75" cy="266.10" r="5" fill="#BEE6BE"/>
<circle cx="650.75" cy="266.10" r="3.8" fill="#8FD88F"/>
<circle cx="650.75" cy="266.10" r="2.6" fill="#1F6E22"/>
<circle cx="665.04" cy="265.90" r="3.4" fill="#E9E9E9"/>
<circle cx="664.64" cy="266.10" r="2.6" fill="#3A3A3A"/>
<circle cx="678.52" cy="266.10" r="5" fill="#BEE6BE"/>
<circle cx="678.52" cy="266.10" r="3.8" fill="#8FD88F"/>
<circle cx="678.52" cy="266.10" r="2.6" fill="#1F6E22"/>
<circle cx="692.81" cy="265.90" r="3.4" fill="#E9E9E9"/>
<circle cx="692.41" cy="266.10" r="2.6" fill="#3A3A3A"/>
<circle cx="706.69" cy="265.90" r="3.4" fill="#E9E9E9"/>
<circle cx="706.29" cy="266.10" r="2.6" fill="#3A3A3A"/>
<circle cx="539.66" cy="279.99" r="5" fill="#BEE6BE"/>
<circle cx="539.66" cy="279.99" r="3.8" fill="#8FD88F"/>
<circle cx="539.66" cy="279.99" r="2.6" fill="#1F6E22"/>
<circle cx="553.55" cy="279.99" r="5" fill="#BEE6BE"/>
<circle cx="553.55" cy="279.99" r="3.8" fill="#8FD88F"/>
<circle cx="553.55" cy="279.99" r="2.6" fill="#1F6E22"/>
<circle cx="567.43" cy="279.99" r="5" fill="#BEE6BE"/>
<circle cx="567.43" cy="279.99" r="3.8" fill="#8FD88F"/>
<circle cx="567.43" cy="279.99" r="2.6" fill="#1F6E22"/>
<circle cx="581.72" cy="279.79" r="3.4" fill="#E9E9E9"/>
<circle cx="581.32" cy="279.99" r="2.6" fill="#3A3A3A"/>
<circle cx="595.21" cy="279.99" r="5" fill="#BEE6BE"/>
<circle cx="595.21" cy="279.99" r="3.8" fill="#8FD88F"/>
<circle cx="595.21" cy="279.99" r="2.6" fill="#1F6E22"/>
<circle cx="609.09" cy="279.99" r="5" fill="#BEE6BE"/>
<circle cx="609.09" cy="279.99" r="3.8" fill="#8FD88F"/>
<circle cx="609.09" cy="279.99" r="2.6" fill="#1F6E22"/>
<circle cx="622.98" cy="279.99" r="5" fill="#BEE6BE"/>
<circle cx="622.98" cy="279.99" r="3.8" fill="#8FD88F"/>
<circle cx="622.98" cy="279.99" r="2.6" fill="#1F6E22"/>
<circle cx="637.26" cy="279.79" r="3.4" fill="#E9E9E9"/>
<circle cx="636.86" cy="279.99" r="2.6" fill="#3A3A3A"/>
<circle cx="650.75" cy="279.99" r="5" fill="#BEE6BE"/>
<circle cx="650.75" cy="279.99" r="3.8" fill="#8FD88F"/>
<circle cx="650.75" cy="279.99" r="2.6" fill="#1F6E22"/>
<circle cx="665.04" cy="279.79" r="3.4" fill="#E9E9E9"/>
<circle cx="664.64" cy="279.99" r="2.6" fill="#3A3A3A"/>
<circle cx="678.52" cy="279.99" r="5" fill="#BEE6BE"/>
<circle cx="678.52" cy="279.99" r="3.8" fill="#8FD88F"/>
<circle cx="678.52" cy="279.99" r="2.6" fill="#1F6E22"/>
<circle cx="692.81" cy="279.79" r="3.4" fill="#E9E9E9"/>
<circle cx="692.41" cy="279.99" r="2.6" fill="#3A3A3A"/>
<circle cx="706.69" cy="279.79" r="3.4" fill="#E9E9E9"/>
<circle cx="706.29" cy="279.99" r="2.6" fill="#3A3A3A"/>
<circle cx="539.66" cy="293.87" r="5" fill="#BEE6BE"/>
<circle cx="539.66" cy="293.87" r="3.8" fill="#8FD88F"/>
<circle cx="539.66" cy="293.87" r="2.6" fill="#1F6E22"/>
<circle cx="553.55" cy="293.87" r="5" fill="#BEE6BE"/>
<circle cx="553.55" cy="293.87" r="3.8" fill="#8FD88F"/>
<circle cx="553.55" cy="293.87" r="2.6" fill="#1F6E22"/>
<circle cx="567.43" cy="293.87" r="5" fill="#BEE6BE"/>
<circle cx="567.43" cy="293.87" r="3.8" fill="#8FD88F"/>
<circle cx="567.43" cy="293.87" r="2.6" fill="#1F6E22"/>
<circle cx="581.72" cy="293.67" r="3.4" fill="#E9E9E9"/>
<circle cx="581.32" cy="293.87" r="2.6" fill="#3A3A3A"/>
<circle cx="595.21" cy="293.87" r="5" fill="#BEE6BE"/>
<circle cx="595.21" cy="293.87" r="3.8" fill="#8FD88F"/>
<circle cx="595.21" cy="293.87" r="2.6" fill="#1F6E22"/>
<circle cx="609.09" cy="293.87" r="5" fill="#BEE6BE"/>
<circle cx="609.09" cy="293.87" r="3.8" fill="#8FD88F"/>
<circle cx="609.09" cy="293.87" r="2.6" fill="#1F6E22"/>
<circle cx="622.98" cy="293.87" r="5" fill="#BEE6BE"/>
<circle cx="622.98" cy="293.87" r="3.8" fill="#8FD88F"/>
<circle cx="622.98" cy="293.87" r="2.6" fill="#1F6E22"/>
<circle cx="637.26" cy="293.67" r="3.4" fill="#E9E9E9"/>
<circle cx="636.86" cy="293.87" r="2.6" fill="#3A3A3A"/>
<circle cx="650.75" cy="293.87" r="5" fill="#BEE6BE"/>
<circle cx="650.75" cy="293.87" r="3.8" fill="#8FD88F"/>
<circle cx="650.75" cy="293.87" r="2.6" fill="#1F6E22"/>
<circle cx="665.04" cy="293.67" r="3.4" fill="#E9E9E9"/>
<circle cx="664.64" cy="293.87" r="2.6" fill="#3A3A3A"/>
<circle cx="678.52" cy="293.87" r="5" fill="#BEE6BE"/>
<circle cx="678.52" cy="293.87" r="3.8" fill="#8FD88F"/>
<circle cx="678.52" cy="293.87" r="2.6" fill="#1F6E22"/>
<circle cx="692.81" cy="293.67" r="3.4" fill="#E9E9E9"/>
<circle cx="692.41" cy="293.87" r="2.6" fill="#3A3A3A"/>
<circle cx="706.69" cy="293.67" r="3.4" fill="#E9E9E9"/>
<circle cx="706.29" cy="293.87" r="2.6" fill="#3A3A3A"/>
<circle cx="539.66" cy="307.76" r="5" fill="#BEE6BE"/>
<circle cx="539.66" cy="307.76" r="3.8" fill="#8FD88F"/>
<circle cx="539.66" cy="307.76" r="2.6" fill="#1F6E22"/>
<circle cx="553.55" cy="307.76" r="5" fill="#BEE6BE"/>
<circle cx="553.55" cy="307.76" r="3.8" fill="#8FD88F"/>
<circle cx="553.55" cy="307.76" r="2.6" fill="#1F6E22"/>
<circle cx="567.43" cy="307.76" r="5" fill="#BEE6BE"/>
<circle cx="567.43" cy="307.76" r="3.8" fill="#8FD88F"/>
<circle cx="567.43" cy="307.76" r="2.6" fill="#1F6E22"/>
<circle cx="581.72" cy="307.56" r="3.4" fill="#E9E9E9"/>
<circle cx="581.32" cy="307.76" r="2.6" fill="#3A3A3A"/>
<circle cx="595.21" cy="307.76" r="5" fill="#BEE6BE"/>
<circle cx="595.21" cy="307.76" r="3.8" fill="#8FD88F"/>
<circle cx="595.21" cy="307.76" r="2.6" fill="#1F6E22"/>
<circle cx="609.09" cy="307.76" r="5" fill="#BEE6BE"/>
<circle cx="609.09" cy="307.76" r="3.8" fill="#8FD88F"/>
<circle cx="609.09" cy="307.76" r="2.6" fill="#1F6E22"/>
<circle cx="622.98" cy="307.76" r="5" fill="#BEE6BE"/>
<circle cx="622.98" cy="307.76" r="3.8" fill="#8FD88F"/>
<circle cx="622.98" cy="307.76" r="2.6" fill="#1F6E22"/>
<circle cx="637.26" cy="307.56" r="3.4" fill="#E9E9E9"/>
<circle cx="636.86" cy="307.76" r="2.6" fill="#3A3A3A"/>
<circle cx="650.75" cy="307.76" r="5" fill="#BEE6BE"/>
<circle cx="650.75" cy="307.76" r="3.8" fill="#8FD88F"/>
<circle cx="650.75" cy="307.76" r="2.6" fill="#1F6E22"/>
<circle cx="665.04" cy="307.56" r="3.4" fill="#E9E9E9"/>
<circle cx="664.64" cy="307.76" r="2.6" fill="#3A3A3A"/>
<circle cx="678.52" cy="307.76" r="5" fill="#BEE6BE"/>
<circle cx="678.52" cy="307.76" r="3.8" fill="#8FD88F"/>
<circle cx="678.52" cy="307.76" r="2.6" fill="#1F6E22"/>
<circle cx="692.81" cy="307.56" r="3.4" fill="#E9E9E9"/>
<circle cx="692.41" cy="307.76" r="2.6" fill="#3A3A3A"/>
<circle cx="706.69" cy="307.56" r="3.4" fill="#E9E9E9"/>
<circle cx="706.29" cy="307.76" r="2.6" fill="#3A3A3A"/>
<circle cx="304.00" cy="321.45" r="3.4" fill="#E9E9E9"/>
<circle cx="303.60" cy="321.65" r="2.6" fill="#3A3A3A"/>
<circle cx="317.49" cy="321.65" r="5" fill="#BEE6BE"/>
<circle cx="317.49" cy="321.65" r="3.8" fill="#8FD88F"/>
<circle cx="317.49" cy="321.65" r="2.6" fill="#1F6E22"/>
<circle cx="331.77" cy="321.45" r="3.4" fill="#E9E9E9"/>
<circle cx="331.37" cy="321.65" r="2.6" fill="#3A3A3A"/>
<circle cx="345.66" cy="321.45" r="3.4" fill="#E9E9E9"/>
<circle cx="345.26" cy="321.65" r="2.6" fill="#3A3A3A"/>
<circle cx="359.54" cy="321.45" r="3.4" fill="#E9E9E9"/>
<circle cx="359.14" cy="321.65" r="2.6" fill="#3A3A3A"/>
<circle cx="373.03" cy="321.65" r="5" fill="#BEE6BE"/>
<circle cx="373.03" cy="321.65" r="3.8" fill="#8FD88F"/>
<circle cx="373.03" cy="321.65" r="2.6" fill="#1F6E22"/>
<circle cx="386.92" cy="321.65" r="5" fill="#BEE6BE"/>
<circle cx="386.92" cy="321.65" r="3.8" fill="#8FD88F"/>
<circle cx="386.92" cy="321.65" r="2.6" fill="#1F6E22"/>
<circle cx="401.20" cy="321.45" r="3.4" fill="#E9E9E9"/>
<circle cx="400.80" cy="321.65" r="2.6" fill="#3A3A3A"/>
<circle cx="415.09" cy="321.45" r="3.4" fill="#E9E9E9"/>
<circle cx="414.69" cy="321.65" r="2.6" fill="#3A3A3A"/>
<circle cx="428.97" cy="321.45" r="3.4" fill="#E9E9E9"/>
<circle cx="428.57" cy="321.65" r="2.6" fill="#3A3A3A"/>
<circle cx="442.86" cy="321.45" r="3.4" fill="#E9E9E9"/>
<circle cx="442.46" cy="321.65" r="2.6" fill="#3A3A3A"/>
<circle cx="456.75" cy="321.45" r="3.4" fill="#E9E9E9"/>
<circle cx="456.35" cy="321.65" r="2.6" fill="#3A3A3A"/>
<circle cx="470.63" cy="321.45" r="3.4" fill="#E9E9E9"/>
<circle cx="470.23" cy="321.65" r="2.6" fill="#3A3A3A"/>
<circle cx="484.12" cy="321.65" r="5" fill="#BEE6BE"/>
<circle cx="484.12" cy="321.65" r="3.8" fill="#8FD88F"/>
<circle cx="484.12" cy="321.65" r="2.6" fill="#1F6E22"/>
<circle cx="498.00" cy="321.65" r="5" fill="#BEE6BE"/>
<circle cx="498.00" cy="321.65" r="3.8" fill="#8FD88F"/>
<circle cx="498.00" cy="321.65" r="2.6" fill="#1F6E22"/>
<circle cx="511.89" cy="321.65" r="5" fill="#BEE6BE"/>
<circle cx="511.89" cy="321.65" r="3.8" fill="#8FD88F"/>
<circle cx="511.89" cy="321.65" r="2.6" fill="#1F6E22"/>
<circle cx="525.78" cy="321.65" r="5" fill="#BEE6BE"/>
<circle cx="525.78" cy="321.65" r="3.8" fill="#8FD88F"/>
<circle cx="525.78" cy="321.65" r="2.6" fill="#1F6E22"/>
<circle cx="539.66" cy="321.65" r="5" fill="#BEE6BE"/>
<circle cx="539.66" cy="321.65" r="3.8" fill="#8FD88F"/>
<circle cx="539.66" cy="321.65" r="2.6" fill="#1F6E22"/>
<circle cx="553.55" cy="321.65" r="5" fill="#BEE6BE"/>
<circle cx="553.55" cy="321.65" r="3.8" fill="#8FD88F"/>
<circle cx="553.55" cy="321.65" r="2.6" fill="#1F6E22"/>
<circle cx="567.43" cy="321.65" r="5" fill="#BEE6BE"/>
<circle cx="567.43" cy="321.65" r="3.8" fill="#8FD88F"/>
<circle cx="567.43" cy="321.65" r="2.6" fill="#1F6E22"/>
<circle cx="581.72" cy="321.45" r="3.4" fill="#E9E9E9"/>
<circle cx="581.32" cy="321.65" r="2.6" fill="#3A3A3A"/>
<circle cx="595.21" cy="321.65" r="5" fill="#BEE6BE"/>
<circle cx="595.21" cy="321.65" r="3.8" fill="#8FD88F"/>
<circle cx="595.21" cy="321.65" r="2.6" fill="#1F6E22"/>
<circle cx="609.09" cy="321.65" r="5" fill="#BEE6BE"/>
<circle cx="609.09" cy="321.65" r="3.8" fill="#8FD88F"/>
<circle cx="609.09" cy="321.65" r="2.6" fill="#1F6E22"/>
<circle cx="622.98" cy="321.65" r="5" fill="#BEE6BE"/>
<circle cx="622.98" cy="321.65" r="3.8" fill="#8FD88F"/>
<circle cx="622.98" cy="321.65" r="2.6" fill="#1F6E22"/>
<circle cx="637.26" cy="321.45" r="3.4" fill="#E9E9E9"/>
<circle cx="636.86" cy="321.65" r="2.6" fill="#3A3A3A"/>
<circle cx="650.75" cy="321.65" r="5" fill="#BEE6BE"/>
<circle cx="650.75" cy="321.65" r="3.8" fill="#8FD88F"/>
<circle cx="650.75" cy="321.65" r="2.6" fill="#1F6E22"/>
<circle cx="665.04" cy="321.45" r="3.4" fill="#E9E9E9"/>
<circle cx="664.64" cy="321.65" r="2.6" fill="#3A3A3A"/>
<circle cx="678.52" cy="321.65" r="5" fill="#BEE6BE"/>
<circle cx="678.52" cy="321.65" r="3.8" fill="#8FD88F"/>
<circle cx="678.52" cy="321.65" r="2.6" fill="#1F6E22"/>
<circle cx="692.81" cy="321.45" r="3.4" fill="#E9E9E9"/>
<circle cx="692.41" cy="321.65" r="2.6" fill="#3A3A3A"/>
<circle cx="706.69" cy="321.45" r="3.4" fill="#E9E9E9"/>
<circle cx="706.29" cy="321.65" r="2.6" fill="#3A3A3A"/>
<text x="0" y="0" font-size="8" fill="#C2C2C2" transform="translate(300.1,152) rotate(90)" text-anchor="middle">30</text>
<text x="0" y="0" font-size="8" fill="#C2C2C2" transform="translate(300.1,337) rotate(90)" text-anchor="middle">30</text>
<text x="0" y="0" font-size="8" fill="#C2C2C2" transform="translate(369.5,152) rotate(90)" text-anchor="middle">25</text>
<text x="0" y="0" font-size="8" fill="#C2C2C2" transform="translate(369.5,337) rotate(90)" text-anchor="middle">25</text>
<text x="0" y="0" font-size="8" fill="#C2C2C2" transform="translate(439.0,152) rotate(90)" text-anchor="middle">20</text>
<text x="0" y="0" font-size="8" fill="#C2C2C2" transform="translate(439.0,337) rotate(90)" text-anchor="middle">20</text>
<text x="0" y="0" font-size="8" fill="#C2C2C2" transform="translate(508.4,152) rotate(90)" text-anchor="middle">15</text>
<text x="0" y="0" font-size="8" fill="#C2C2C2" transform="translate(508.4,337) rotate(90)" text-anchor="middle">15</text>
<text x="0" y="0" font-size="8" fill="#C2C2C2" transform="translate(577.8,152) rotate(90)" text-anchor="middle">10</text>
<text x="0" y="0" font-size="8" fill="#C2C2C2" transform="translate(577.8,337) rotate(90)" text-anchor="middle">10</text>
<text x="0" y="0" font-size="8" fill="#C2C2C2" transform="translate(647.2,337) rotate(90)" text-anchor="middle">5</text>
<text x="0" y="0" font-size="8" fill="#C2C2C2" transform="translate(702.8,337) rotate(90)" text-anchor="middle">1</text>
<text x="0" y="0" font-size="9" fill="#B8B8B8" transform="translate(716,168.9) rotate(90)" text-anchor="middle">A</text>
<text x="0" y="0" font-size="9" fill="#B8B8B8" transform="translate(285,168.9) rotate(90)" text-anchor="middle">A</text>
<text x="0" y="0" font-size="9" fill="#B8B8B8" transform="translate(716,182.8) rotate(90)" text-anchor="middle">B</text>
<text x="0" y="0" font-size="9" fill="#B8B8B8" transform="translate(285,182.8) rotate(90)" text-anchor="middle">B</text>
<text x="0" y="0" font-size="9" fill="#B8B8B8" transform="translate(716,196.7) rotate(90)" text-anchor="middle">C</text>
<text x="0" y="0" font-size="9" fill="#B8B8B8" transform="translate(285,196.7) rotate(90)" text-anchor="middle">C</text>
<text x="0" y="0" font-size="9" fill="#B8B8B8" transform="translate(716,210.6) rotate(90)" text-anchor="middle">D</text>
<text x="0" y="0" font-size="9" fill="#B8B8B8" transform="translate(285,210.6) rotate(90)" text-anchor="middle">D</text>
<text x="0" y="0" font-size="9" fill="#B8B8B8" transform="translate(716,224.4) rotate(90)" text-anchor="middle">E</text>
<text x="0" y="0" font-size="9" fill="#B8B8B8" transform="translate(285,224.4) rotate(90)" text-anchor="middle">E</text>
<text x="0" y="0" font-size="9" fill="#B8B8B8" transform="translate(716,266.1) rotate(90)" text-anchor="middle">F</text>
<text x="0" y="0" font-size="9" fill="#B8B8B8" transform="translate(285,266.1) rotate(90)" text-anchor="middle">F</text>
<text x="0" y="0" font-size="9" fill="#B8B8B8" transform="translate(716,280.0) rotate(90)" text-anchor="middle">G</text>
<text x="0" y="0" font-size="9" fill="#B8B8B8" transform="translate(285,280.0) rotate(90)" text-anchor="middle">G</text>
<text x="0" y="0" font-size="9" fill="#B8B8B8" transform="translate(716,293.9) rotate(90)" text-anchor="middle">H</text>
<text x="0" y="0" font-size="9" fill="#B8B8B8" transform="translate(285,293.9) rotate(90)" text-anchor="middle">H</text>
<text x="0" y="0" font-size="9" fill="#B8B8B8" transform="translate(716,307.8) rotate(90)" text-anchor="middle">I</text>
<text x="0" y="0" font-size="9" fill="#B8B8B8" transform="translate(285,307.8) rotate(90)" text-anchor="middle">I</text>
<text x="0" y="0" font-size="9" fill="#B8B8B8" transform="translate(716,321.6) rotate(90)" text-anchor="middle">J</text>
<text x="0" y="0" font-size="9" fill="#B8B8B8" transform="translate(285,321.6) rotate(90)" text-anchor="middle">J</text>
<polyline points="562,138 563.5,150 566,182" stroke="#A4A4A4" stroke-width="3.2" fill="none"/>
<polyline points="584,138 582.5,150 580.5,182" stroke="#A4A4A4" stroke-width="3.2" fill="none"/>
<polyline points="565.1,168 566,182" stroke="#8CB08C" stroke-width="3.2" fill="none"/>
<polyline points="581.4,168 580.5,182" stroke="#8CB08C" stroke-width="3.2" fill="none"/>
<path d="M565,121.5 L581,121.5 Q583,122 583,125 L583.5,131 Q587,135 586,140.5 L582,140.5 Q573,132 564.5,140.5 L560.5,140.5 Q559.5,135 563,131 L563.2,125 Q563,122 565,121.5 Z" fill="#2A6BC0"/>
<g transform="translate(533.80,127.00) rotate(44.43)">
<rect x="0" y="-1.5" width="28.50" height="3" fill="#A4A4A4"/>
<rect x="28.50" y="-1.5" width="28.50" height="3" fill="#90AC90"/>
<path d="M11.80,-6.3 h7 q1.5,1.3 3,1.3 h11.00 q1.5,0 3,-1.3 h5.00 q1,0 1,1.5 v9.6 q0,1.5 -1,1.5 h-5 q-1.5,-1.3 -3,-1.3 h-11.00 q-1.5,0 -3,1.3 h-7 q-1,0 -1,-1.5 v-9.6 q0,-1.5 1,-1.5 z" fill="#E6C68A"/>
<rect x="12.80" y="-5.3" width="29.00" height="2" fill="#F0DAA8" opacity="0.7"/>
<rect x="14.8" y="-5.2" width="4.5" height="10.4" fill="#F2D21A"/>
<rect x="22.8" y="-5.2" width="3" height="10.4" fill="#8A2CC8"/>
<rect x="29.8" y="-5.2" width="3" height="10.4" fill="#7A3A10"/>
<rect x="40.8" y="-5.2" width="2" height="10.4" fill="#7A6030"/>
</g>
<g transform="translate(676.70,113.40) rotate(90.00)">
<rect x="0" y="-1.5" width="27.70" height="3" fill="#A4A4A4"/>
<rect x="27.70" y="-1.5" width="27.70" height="3" fill="#90AC90"/>
<path d="M11.00,-6.3 h7 q1.5,1.3 3,1.3 h13.00 q1.5,0 3,-1.3 h5.00 q1,0 1,1.5 v9.6 q0,1.5 -1,1.5 h-5 q-1.5,-1.3 -3,-1.3 h-13.00 q-1.5,0 -3,1.3 h-7 q-1,0 -1,-1.5 v-9.6 q0,-1.5 1,-1.5 z" fill="#E6C68A"/>
<rect x="12.00" y="-5.3" width="31.00" height="2" fill="#F0DAA8" opacity="0.7"/>
<rect x="14.7" y="-5.2" width="3.4" height="10.4" fill="#F0701A"/>
<rect x="21.7" y="-5.2" width="3.4" height="10.4" fill="#F0701A"/>
<rect x="28.5" y="-5.2" width="3" height="10.4" fill="#6A3A14"/>
<rect x="39.8" y="-5.2" width="2" height="10.4" fill="#6A5028"/>
</g>
<g transform="translate(546.70,293.30) rotate(0.00)">
<rect x="0" y="-1.5" width="30.00" height="3" fill="#A4A4A4"/>
<rect x="30.00" y="-1.5" width="30.00" height="3" fill="#90AC90"/>
<path d="M12.20,-6.3 h7 q1.5,1.3 3,1.3 h13.00 q1.5,0 3,-1.3 h5.00 q1,0 1,1.5 v9.6 q0,1.5 -1,1.5 h-5 q-1.5,-1.3 -3,-1.3 h-13.00 q-1.5,0 -3,1.3 h-7 q-1,0 -1,-1.5 v-9.6 q0,-1.5 1,-1.5 z" fill="#E6C68A"/>
<rect x="13.20" y="-5.3" width="31.00" height="2" fill="#F0DAA8" opacity="0.7"/>
<rect x="16.2" y="-5.2" width="4.2" height="10.4" fill="#D42020"/>
<rect x="23.3" y="-5.2" width="4.2" height="10.4" fill="#D42020"/>
<rect x="30.3" y="-5.2" width="3.8" height="10.4" fill="#8A4A10"/>
<rect x="42.0" y="-5.2" width="1.4" height="10.4" fill="#7A6030"/>
</g>
<g transform="translate(673.10,321.40) rotate(90.00)">
<rect x="0" y="-1.5" width="27.80" height="3" fill="#A4A4A4"/>
<rect x="27.80" y="-1.5" width="27.80" height="3" fill="#90AC90"/>
<path d="M11.10,-6.3 h7 q1.5,1.3 3,1.3 h12.00 q1.5,0 3,-1.3 h5.00 q1,0 1,1.5 v9.6 q0,1.5 -1,1.5 h-5 q-1.5,-1.3 -3,-1.3 h-12.00 q-1.5,0 -3,1.3 h-7 q-1,0 -1,-1.5 v-9.6 q0,-1.5 1,-1.5 z" fill="#E6C68A"/>
<rect x="12.10" y="-5.3" width="30.00" height="2" fill="#F0DAA8" opacity="0.7"/>
<rect x="13.9" y="-5.2" width="4" height="10.4" fill="#F2D21A"/>
<rect x="21.5" y="-5.2" width="3" height="10.4" fill="#8A2CC8"/>
<rect x="28.9" y="-5.2" width="2.8" height="10.4" fill="#7A3A10"/>
<rect x="39.5" y="-5.2" width="1.6" height="10.4" fill="#4A3A1A"/>
</g>
<rect x="550.9" y="221" width="5.2" height="7" rx="1.5" fill="#9CCB9C"/>
<rect x="550.9" y="262" width="5.2" height="7" rx="1.5" fill="#9CCB9C"/>
<rect x="564.8" y="221" width="5.2" height="7" rx="1.5" fill="#9CCB9C"/>
<rect x="564.8" y="262" width="5.2" height="7" rx="1.5" fill="#9CCB9C"/>
<rect x="547.2" y="226.5" width="25.4" height="37.3" rx="1" fill="#2A2A2A"/>
<rect x="548.4" y="227.7" width="23" height="34.9" rx="1" fill="none" stroke="#444" stroke-width="0.8"/>
<text x="0" y="0" font-size="6" fill="#BDBDBD" transform="translate(558,253) rotate(-90)">PC817</text>
<text x="0" y="0" font-size="6" fill="#EEEEEE" font-weight="bold" transform="translate(566,250) rotate(-90)">SHARP</text>
<rect x="618.2" y="321" width="2.4" height="56" fill="#A8A8A8"/>
<rect x="614.5" y="332.8" width="10.5" height="30.5" fill="#262626"/>
<rect x="614.5" y="336.5" width="10.5" height="3.6" fill="#E6E6E6"/>
<rect x="264.2" y="176.5" width="263.5" height="138.2" rx="12" fill="#231F20"/>
<rect x="255.5" y="224.5" width="32.5" height="41.8" fill="#CBCBCB"/>
<rect x="291" y="177.2" width="208" height="13.6" rx="6.8" fill="#2C2C2C"/>
<circle cx="298.20" cy="184" r="6.2" fill="#434A4A"/>
<circle cx="298.20" cy="184" r="2.6" fill="#7A3A30"/>
<circle cx="298.20" cy="184" r="1.6" fill="#F04A2A"/>
<circle cx="312.09" cy="184" r="6.2" fill="#434A4A"/>
<circle cx="312.09" cy="184" r="2.6" fill="#7A3A30"/>
<circle cx="312.09" cy="184" r="1.6" fill="#F04A2A"/>
<circle cx="325.97" cy="184" r="6.2" fill="#434A4A"/>
<circle cx="325.97" cy="184" r="2.6" fill="#7A3A30"/>
<circle cx="325.97" cy="184" r="1.6" fill="#F04A2A"/>
<circle cx="339.86" cy="184" r="6.2" fill="#434A4A"/>
<circle cx="339.86" cy="184" r="2.6" fill="#7A3A30"/>
<circle cx="339.86" cy="184" r="1.6" fill="#F04A2A"/>
<circle cx="353.74" cy="184" r="6.2" fill="#434A4A"/>
<circle cx="353.74" cy="184" r="2.6" fill="#7A3A30"/>
<circle cx="353.74" cy="184" r="1.6" fill="#F04A2A"/>
<circle cx="367.63" cy="184" r="6.2" fill="#434A4A"/>
<circle cx="367.63" cy="184" r="2.6" fill="#7A3A30"/>
<circle cx="367.63" cy="184" r="1.6" fill="#F04A2A"/>
<circle cx="381.52" cy="184" r="6.2" fill="#434A4A"/>
<circle cx="381.52" cy="184" r="2.6" fill="#7A3A30"/>
<circle cx="381.52" cy="184" r="1.6" fill="#F04A2A"/>
<circle cx="395.40" cy="184" r="6.2" fill="#434A4A"/>
<circle cx="395.40" cy="184" r="2.6" fill="#7A3A30"/>
<circle cx="395.40" cy="184" r="1.6" fill="#F04A2A"/>
<circle cx="409.29" cy="184" r="6.2" fill="#434A4A"/>
<circle cx="409.29" cy="184" r="2.6" fill="#7A3A30"/>
<circle cx="409.29" cy="184" r="1.6" fill="#F04A2A"/>
<circle cx="423.17" cy="184" r="6.2" fill="#434A4A"/>
<circle cx="423.17" cy="184" r="2.6" fill="#7A3A30"/>
<circle cx="423.17" cy="184" r="1.6" fill="#F04A2A"/>
<circle cx="437.06" cy="184" r="6.2" fill="#434A4A"/>
<circle cx="437.06" cy="184" r="2.6" fill="#7A3A30"/>
<circle cx="437.06" cy="184" r="1.6" fill="#F04A2A"/>
<circle cx="450.95" cy="184" r="6.2" fill="#434A4A"/>
<circle cx="450.95" cy="184" r="2.6" fill="#7A3A30"/>
<circle cx="450.95" cy="184" r="1.6" fill="#F04A2A"/>
<circle cx="464.83" cy="184" r="6.2" fill="#434A4A"/>
<circle cx="464.83" cy="184" r="2.6" fill="#7A3A30"/>
<circle cx="464.83" cy="184" r="1.6" fill="#F04A2A"/>
<circle cx="478.72" cy="184" r="6.2" fill="#434A4A"/>
<circle cx="478.72" cy="184" r="2.6" fill="#7A3A30"/>
<circle cx="478.72" cy="184" r="1.6" fill="#F04A2A"/>
<circle cx="492.60" cy="184" r="6.2" fill="#434A4A"/>
<circle cx="492.60" cy="184" r="2.6" fill="#7A3A30"/>
<circle cx="492.60" cy="184" r="1.6" fill="#F04A2A"/>
<rect x="291" y="300.9" width="208" height="13.6" rx="6.8" fill="#2C2C2C"/>
<circle cx="298.20" cy="307.7" r="6.2" fill="#434A4A"/>
<circle cx="298.20" cy="307.7" r="2.6" fill="#7A3A30"/>
<circle cx="298.20" cy="307.7" r="1.6" fill="#F04A2A"/>
<circle cx="312.09" cy="307.7" r="6.2" fill="#434A4A"/>
<circle cx="312.09" cy="307.7" r="2.6" fill="#7A3A30"/>
<circle cx="312.09" cy="307.7" r="1.6" fill="#F04A2A"/>
<circle cx="325.97" cy="307.7" r="6.2" fill="#434A4A"/>
<circle cx="325.97" cy="307.7" r="2.6" fill="#7A3A30"/>
<circle cx="325.97" cy="307.7" r="1.6" fill="#F04A2A"/>
<circle cx="339.86" cy="307.7" r="6.2" fill="#434A4A"/>
<circle cx="339.86" cy="307.7" r="2.6" fill="#7A3A30"/>
<circle cx="339.86" cy="307.7" r="1.6" fill="#F04A2A"/>
<circle cx="353.74" cy="307.7" r="6.2" fill="#434A4A"/>
<circle cx="353.74" cy="307.7" r="2.6" fill="#7A3A30"/>
<circle cx="353.74" cy="307.7" r="1.6" fill="#F04A2A"/>
<circle cx="367.63" cy="307.7" r="6.2" fill="#434A4A"/>
<circle cx="367.63" cy="307.7" r="2.6" fill="#7A3A30"/>
<circle cx="367.63" cy="307.7" r="1.6" fill="#F04A2A"/>
<circle cx="381.52" cy="307.7" r="6.2" fill="#434A4A"/>
<circle cx="381.52" cy="307.7" r="2.6" fill="#7A3A30"/>
<circle cx="381.52" cy="307.7" r="1.6" fill="#F04A2A"/>
<circle cx="395.40" cy="307.7" r="6.2" fill="#434A4A"/>
<circle cx="395.40" cy="307.7" r="2.6" fill="#7A3A30"/>
<circle cx="395.40" cy="307.7" r="1.6" fill="#F04A2A"/>
<circle cx="409.29" cy="307.7" r="6.2" fill="#434A4A"/>
<circle cx="409.29" cy="307.7" r="2.6" fill="#7A3A30"/>
<circle cx="409.29" cy="307.7" r="1.6" fill="#F04A2A"/>
<circle cx="423.17" cy="307.7" r="6.2" fill="#434A4A"/>
<circle cx="423.17" cy="307.7" r="2.6" fill="#7A3A30"/>
<circle cx="423.17" cy="307.7" r="1.6" fill="#F04A2A"/>
<circle cx="437.06" cy="307.7" r="6.2" fill="#434A4A"/>
<circle cx="437.06" cy="307.7" r="2.6" fill="#7A3A30"/>
<circle cx="437.06" cy="307.7" r="1.6" fill="#F04A2A"/>
<circle cx="450.95" cy="307.7" r="6.2" fill="#434A4A"/>
<circle cx="450.95" cy="307.7" r="2.6" fill="#7A3A30"/>
<circle cx="450.95" cy="307.7" r="1.6" fill="#F04A2A"/>
<circle cx="464.83" cy="307.7" r="6.2" fill="#434A4A"/>
<circle cx="464.83" cy="307.7" r="2.6" fill="#7A3A30"/>
<circle cx="464.83" cy="307.7" r="1.6" fill="#F04A2A"/>
<circle cx="478.72" cy="307.7" r="6.2" fill="#434A4A"/>
<circle cx="478.72" cy="307.7" r="2.6" fill="#7A3A30"/>
<circle cx="478.72" cy="307.7" r="1.6" fill="#F04A2A"/>
<circle cx="492.60" cy="307.7" r="6.2" fill="#434A4A"/>
<circle cx="492.60" cy="307.7" r="2.6" fill="#7A3A30"/>
<circle cx="492.60" cy="307.7" r="1.6" fill="#F04A2A"/>
<defs><clipPath id="mh0"><circle cx="275.7" cy="186.7" r="8"/></clipPath><clipPath id="mh1"><circle cx="275.7" cy="303" r="8"/></clipPath><clipPath id="mh2"><circle cx="515" cy="187.4" r="8"/></clipPath><clipPath id="mh3"><circle cx="515" cy="303.8" r="8"/></clipPath></defs>
<circle cx="275.7" cy="186.7" r="8" fill="#FFFFFF"/>
<rect x="277" y="177.7" width="10" height="18" fill="#DCDCDC" clip-path="url(#mh0)"/>
<circle cx="275.7" cy="303" r="8" fill="#FFFFFF"/>
<rect x="277" y="294" width="10" height="18" fill="#DCDCDC" clip-path="url(#mh1)"/>
<circle cx="515" cy="187.4" r="8" fill="#DCDCDC"/>
<circle cx="511.9" cy="182.8" r="2.6" fill="#3A3A3A" clip-path="url(#mh2)"/>
<circle cx="525.8" cy="182.8" r="2.6" fill="#3A3A3A" clip-path="url(#mh2)"/>
<circle cx="515" cy="303.8" r="8" fill="#DCDCDC"/>
<circle cx="511.9" cy="307.7" r="2.6" fill="#3A3A3A" clip-path="url(#mh3)"/>
<circle cx="525.8" cy="307.7" r="2.6" fill="#3A3A3A" clip-path="url(#mh3)"/>
<text x="298.2" y="197.6" font-size="6" fill="#DCDCDC" font-family="Liberation Mono" text-anchor="middle">Vin</text>
<text x="312.1" y="197.6" font-size="6" fill="#DCDCDC" font-family="Liberation Mono" text-anchor="middle">GND</text>
<text x="326.0" y="197.6" font-size="6" fill="#DCDCDC" font-family="Liberation Mono" text-anchor="middle">RST</text>
<text x="339.9" y="197.6" font-size="6" fill="#DCDCDC" font-family="Liberation Mono" text-anchor="middle">EN</text>
<text x="353.7" y="197.6" font-size="6" fill="#DCDCDC" font-family="Liberation Mono" text-anchor="middle">3V3</text>
<text x="367.6" y="197.6" font-size="6" fill="#DCDCDC" font-family="Liberation Mono" text-anchor="middle">GND</text>
<text x="381.5" y="197.6" font-size="6" fill="#DCDCDC" font-family="Liberation Mono" text-anchor="middle">CLK</text>
<text x="395.4" y="197.6" font-size="6" fill="#DCDCDC" font-family="Liberation Mono" text-anchor="middle">SDO</text>
<text x="409.3" y="197.6" font-size="6" fill="#DCDCDC" font-family="Liberation Mono" text-anchor="middle">CMD</text>
<text x="423.2" y="197.6" font-size="6" fill="#DCDCDC" font-family="Liberation Mono" text-anchor="middle">SD1</text>
<text x="437.1" y="197.6" font-size="6" fill="#DCDCDC" font-family="Liberation Mono" text-anchor="middle">SD2</text>
<text x="450.9" y="197.6" font-size="6" fill="#DCDCDC" font-family="Liberation Mono" text-anchor="middle">SD3</text>
<text x="464.8" y="197.6" font-size="6" fill="#DCDCDC" font-family="Liberation Mono" text-anchor="middle">RSV</text>
<text x="478.7" y="197.6" font-size="6" fill="#DCDCDC" font-family="Liberation Mono" text-anchor="middle">RSV</text>
<text x="492.6" y="197.6" font-size="6" fill="#DCDCDC" font-family="Liberation Mono" text-anchor="middle">A0</text>
<text x="0" y="0" font-size="6" fill="#DCDCDC" font-family="Liberation Mono" text-anchor="middle" transform="translate(298.2,293.6) rotate(180)">3V3</text>
<text x="0" y="0" font-size="6" fill="#DCDCDC" font-family="Liberation Mono" text-anchor="middle" transform="translate(312.1,293.6) rotate(180)">GND</text>
<text x="0" y="0" font-size="6" fill="#DCDCDC" font-family="Liberation Mono" text-anchor="middle" transform="translate(326.0,293.6) rotate(180)">TX</text>
<text x="0" y="0" font-size="6" fill="#DCDCDC" font-family="Liberation Mono" text-anchor="middle" transform="translate(339.9,293.6) rotate(180)">RX</text>
<text x="0" y="0" font-size="6" fill="#DCDCDC" font-family="Liberation Mono" text-anchor="middle" transform="translate(353.7,293.6) rotate(180)">D8</text>
<text x="0" y="0" font-size="6" fill="#DCDCDC" font-family="Liberation Mono" text-anchor="middle" transform="translate(367.6,293.6) rotate(180)">D7</text>
<text x="0" y="0" font-size="6" fill="#DCDCDC" font-family="Liberation Mono" text-anchor="middle" transform="translate(381.5,293.6) rotate(180)">D6</text>
<text x="0" y="0" font-size="6" fill="#DCDCDC" font-family="Liberation Mono" text-anchor="middle" transform="translate(395.4,293.6) rotate(180)">D5</text>
<text x="0" y="0" font-size="6" fill="#DCDCDC" font-family="Liberation Mono" text-anchor="middle" transform="translate(409.3,293.6) rotate(180)">GND</text>
<text x="0" y="0" font-size="6" fill="#DCDCDC" font-family="Liberation Mono" text-anchor="middle" transform="translate(423.2,293.6) rotate(180)">3V3</text>
<text x="0" y="0" font-size="6" fill="#DCDCDC" font-family="Liberation Mono" text-anchor="middle" transform="translate(437.1,293.6) rotate(180)">D4</text>
<text x="0" y="0" font-size="6" fill="#DCDCDC" font-family="Liberation Mono" text-anchor="middle" transform="translate(450.9,293.6) rotate(180)">D3</text>
<text x="0" y="0" font-size="6" fill="#DCDCDC" font-family="Liberation Mono" text-anchor="middle" transform="translate(464.8,293.6) rotate(180)">D2</text>
<text x="0" y="0" font-size="6" fill="#DCDCDC" font-family="Liberation Mono" text-anchor="middle" transform="translate(478.7,293.6) rotate(180)">D1</text>
<text x="0" y="0" font-size="6" fill="#DCDCDC" font-family="Liberation Mono" text-anchor="middle" transform="translate(492.6,293.6) rotate(180)">D0</text>
<rect x="274" y="202.4" width="14.5" height="15" fill="#D4D4D4"/>
<circle cx="281.2" cy="209.9" r="5" fill="#222"/>
<rect x="274" y="273" width="14.5" height="15" fill="#D4D4D4"/>
<circle cx="281.2" cy="280.5" r="5" fill="#222"/>
<text x="0" y="0" font-size="6" fill="#DDD" font-family="Liberation Mono" transform="translate(290,204) rotate(90)">RST</text>
<text x="0" y="0" font-size="6" fill="#DDD" font-family="Liberation Mono" transform="translate(290,273) rotate(90)">FLASH</text>
<rect x="301" y="231" width="28" height="29" fill="#151515"/>
<rect x="302.5" y="228.2" width="1.6" height="1.4" fill="#9A9A9A"/>
<rect x="302.5" y="261.4" width="1.6" height="1.4" fill="#9A9A9A"/>
<rect x="298.4" y="232.5" width="1.4" height="1.6" fill="#9A9A9A"/>
<rect x="330.2" y="232.5" width="1.4" height="1.6" fill="#9A9A9A"/>
<rect x="306.3" y="228.2" width="1.6" height="1.4" fill="#9A9A9A"/>
<rect x="306.3" y="261.4" width="1.6" height="1.4" fill="#9A9A9A"/>
<rect x="298.4" y="236.3" width="1.4" height="1.6" fill="#9A9A9A"/>
<rect x="330.2" y="236.3" width="1.4" height="1.6" fill="#9A9A9A"/>
<rect x="310.1" y="228.2" width="1.6" height="1.4" fill="#9A9A9A"/>
<rect x="310.1" y="261.4" width="1.6" height="1.4" fill="#9A9A9A"/>
<rect x="298.4" y="240.1" width="1.4" height="1.6" fill="#9A9A9A"/>
<rect x="330.2" y="240.1" width="1.4" height="1.6" fill="#9A9A9A"/>
<rect x="313.9" y="228.2" width="1.6" height="1.4" fill="#9A9A9A"/>
<rect x="313.9" y="261.4" width="1.6" height="1.4" fill="#9A9A9A"/>
<rect x="298.4" y="243.9" width="1.4" height="1.6" fill="#9A9A9A"/>
<rect x="330.2" y="243.9" width="1.4" height="1.6" fill="#9A9A9A"/>
<rect x="317.7" y="228.2" width="1.6" height="1.4" fill="#9A9A9A"/>
<rect x="317.7" y="261.4" width="1.6" height="1.4" fill="#9A9A9A"/>
<rect x="298.4" y="247.7" width="1.4" height="1.6" fill="#9A9A9A"/>
<rect x="330.2" y="247.7" width="1.4" height="1.6" fill="#9A9A9A"/>
<rect x="321.5" y="228.2" width="1.6" height="1.4" fill="#9A9A9A"/>
<rect x="321.5" y="261.4" width="1.6" height="1.4" fill="#9A9A9A"/>
<rect x="298.4" y="251.5" width="1.4" height="1.6" fill="#9A9A9A"/>
<rect x="330.2" y="251.5" width="1.4" height="1.6" fill="#9A9A9A"/>
<rect x="325.3" y="228.2" width="1.6" height="1.4" fill="#9A9A9A"/>
<rect x="325.3" y="261.4" width="1.6" height="1.4" fill="#9A9A9A"/>
<rect x="298.4" y="255.3" width="1.4" height="1.6" fill="#9A9A9A"/>
<rect x="330.2" y="255.3" width="1.4" height="1.6" fill="#9A9A9A"/>
<text x="0" y="0" font-size="6.6" fill="#D8D8D8" font-family="Liberation Sans" text-anchor="middle" transform="translate(315,246.5) rotate(180)">SILABS</text>
<text x="0" y="0" font-size="6.6" fill="#D8D8D8" font-family="Liberation Sans" text-anchor="middle" transform="translate(315,239.5) rotate(180)">CP2102</text>
<rect x="348" y="209.0" width="1.8" height="3.6" fill="#8C8C8C"/>
<rect x="354.5" y="209.0" width="1.8" height="3.6" fill="#8C8C8C"/>
<rect x="348" y="216.2" width="1.8" height="3.6" fill="#8C8C8C"/>
<rect x="354.5" y="216.2" width="1.8" height="3.6" fill="#8C8C8C"/>
<rect x="348" y="223.4" width="1.8" height="3.6" fill="#8C8C8C"/>
<rect x="354.5" y="223.4" width="1.8" height="3.6" fill="#8C8C8C"/>
<rect x="348" y="230.6" width="1.8" height="3.6" fill="#8C8C8C"/>
<rect x="354.5" y="230.6" width="1.8" height="3.6" fill="#8C8C8C"/>
<rect x="348" y="237.8" width="1.8" height="3.6" fill="#8C8C8C"/>
<rect x="354.5" y="237.8" width="1.8" height="3.6" fill="#8C8C8C"/>
<rect x="348" y="245.0" width="1.8" height="3.6" fill="#8C8C8C"/>
<rect x="354.5" y="245.0" width="1.8" height="3.6" fill="#8C8C8C"/>
<rect x="348" y="252.2" width="1.8" height="3.6" fill="#8C8C8C"/>
<rect x="354.5" y="252.2" width="1.8" height="3.6" fill="#8C8C8C"/>
<rect x="348" y="259.4" width="1.8" height="3.6" fill="#8C8C8C"/>
<rect x="354.5" y="259.4" width="1.8" height="3.6" fill="#8C8C8C"/>
<rect x="348" y="266.6" width="1.8" height="3.6" fill="#8C8C8C"/>
<rect x="354.5" y="266.6" width="1.8" height="3.6" fill="#8C8C8C"/>
<rect x="348" y="273.8" width="1.8" height="3.6" fill="#8C8C8C"/>
<rect x="354.5" y="273.8" width="1.8" height="3.6" fill="#8C8C8C"/>
<rect x="348" y="281.0" width="1.8" height="3.6" fill="#8C8C8C"/>
<rect x="354.5" y="281.0" width="1.8" height="3.6" fill="#8C8C8C"/>
<rect x="306" y="212" width="1.8" height="3.6" fill="#8C8C8C"/>
<rect x="306" y="218" width="1.8" height="3.6" fill="#8C8C8C"/>
<rect x="312" y="212" width="1.8" height="3.6" fill="#8C8C8C"/>
<rect x="312" y="218" width="1.8" height="3.6" fill="#8C8C8C"/>
<rect x="321.5" y="213" width="4" height="7" fill="#EEE"/>
<rect x="368" y="214" width="24" height="15.7" fill="#F2E11A"/>
<rect x="386" y="214" width="6" height="15.7" fill="#F28A1E"/>
<rect x="366" y="218" width="2.5" height="8" fill="#E6C8C8"/>
<rect x="391.5" y="218" width="2.5" height="8" fill="#E6C8C8"/>
<rect x="369" y="234" width="11.5" height="9" fill="#F2E11A"/>
<rect x="378" y="234" width="3" height="9" fill="#F28A1E"/>
<rect x="371.0" y="249.5" width="4.5" height="7" fill="#9C9C9C"/>
<rect x="378.0" y="249.5" width="4.5" height="7" fill="#9C9C9C"/>
<rect x="385.0" y="249.5" width="4.5" height="7" fill="#9C9C9C"/>
<rect x="368.8" y="259.5" width="22" height="10" fill="#383838"/>
<text x="0" y="0" font-size="4.5" fill="#D0D0D0" font-family="Liberation Mono" text-anchor="middle" transform="translate(379.8,263.5) rotate(180)">AMS1117</text>
<rect x="374.6" y="272" width="11.4" height="7" fill="#9C9C9C"/>
<rect x="308" y="271.5" width="5" height="8" fill="#8C8C8C"/>
<rect x="313" y="271" width="6" height="9" fill="#333"/>
<rect x="409" y="212.5" width="79.7" height="66.5" fill="#333333" stroke="#3C3C3C" stroke-width="0.8"/>
<rect x="408.5" y="203" width="7.2" height="8.6" fill="#E6CBAE"/>
<circle cx="412.1" cy="207.6" r="2" fill="#2A2222"/>
<rect x="410.9" y="203" width="2.4" height="2" fill="#231F20"/>
<rect x="408.5" y="280.6" width="7.2" height="8.6" fill="#E6CBAE"/>
<circle cx="412.1" cy="285.2" r="2" fill="#2A2222"/>
<rect x="410.9" y="287.20000000000005" width="2.4" height="2" fill="#231F20"/>
<rect x="418.6" y="203" width="7.2" height="8.6" fill="#E6CBAE"/>
<circle cx="422.2" cy="207.6" r="2" fill="#2A2222"/>
<rect x="421.0" y="203" width="2.4" height="2" fill="#231F20"/>
<rect x="418.6" y="280.6" width="7.2" height="8.6" fill="#E6CBAE"/>
<circle cx="422.2" cy="285.2" r="2" fill="#2A2222"/>
<rect x="421.0" y="287.20000000000005" width="2.4" height="2" fill="#231F20"/>
<rect x="428.7" y="203" width="7.2" height="8.6" fill="#E6CBAE"/>
<circle cx="432.3" cy="207.6" r="2" fill="#2A2222"/>
<rect x="431.1" y="203" width="2.4" height="2" fill="#231F20"/>
<rect x="428.7" y="280.6" width="7.2" height="8.6" fill="#E6CBAE"/>
<circle cx="432.3" cy="285.2" r="2" fill="#2A2222"/>
<rect x="431.1" y="287.20000000000005" width="2.4" height="2" fill="#231F20"/>
<rect x="438.7" y="203" width="7.2" height="8.6" fill="#E6CBAE"/>
<circle cx="442.3" cy="207.6" r="2" fill="#2A2222"/>
<rect x="441.1" y="203" width="2.4" height="2" fill="#231F20"/>
<rect x="438.7" y="280.6" width="7.2" height="8.6" fill="#E6CBAE"/>
<circle cx="442.3" cy="285.2" r="2" fill="#2A2222"/>
<rect x="441.1" y="287.20000000000005" width="2.4" height="2" fill="#231F20"/>
<rect x="448.8" y="203" width="7.2" height="8.6" fill="#E6CBAE"/>
<circle cx="452.4" cy="207.6" r="2" fill="#2A2222"/>
<rect x="451.2" y="203" width="2.4" height="2" fill="#231F20"/>
<rect x="448.8" y="280.6" width="7.2" height="8.6" fill="#E6CBAE"/>
<circle cx="452.4" cy="285.2" r="2" fill="#2A2222"/>
<rect x="451.2" y="287.20000000000005" width="2.4" height="2" fill="#231F20"/>
<rect x="458.9" y="203" width="7.2" height="8.6" fill="#E6CBAE"/>
<circle cx="462.5" cy="207.6" r="2" fill="#2A2222"/>
<rect x="461.3" y="203" width="2.4" height="2" fill="#231F20"/>
<rect x="458.9" y="280.6" width="7.2" height="8.6" fill="#E6CBAE"/>
<circle cx="462.5" cy="285.2" r="2" fill="#2A2222"/>
<rect x="461.3" y="287.20000000000005" width="2.4" height="2" fill="#231F20"/>
<rect x="469.0" y="203" width="7.2" height="8.6" fill="#E6CBAE"/>
<circle cx="472.6" cy="207.6" r="2" fill="#2A2222"/>
<rect x="471.4" y="203" width="2.4" height="2" fill="#231F20"/>
<rect x="469.0" y="280.6" width="7.2" height="8.6" fill="#E6CBAE"/>
<circle cx="472.6" cy="285.2" r="2" fill="#2A2222"/>
<rect x="471.4" y="287.20000000000005" width="2.4" height="2" fill="#231F20"/>
<rect x="479.1" y="203" width="7.2" height="8.6" fill="#E6CBAE"/>
<circle cx="482.7" cy="207.6" r="2" fill="#2A2222"/>
<rect x="481.5" y="203" width="2.4" height="2" fill="#231F20"/>
<rect x="479.1" y="280.6" width="7.2" height="8.6" fill="#E6CBAE"/>
<circle cx="482.7" cy="285.2" r="2" fill="#2A2222"/>
<rect x="481.5" y="287.20000000000005" width="2.4" height="2" fill="#231F20"/>
<rect x="404.4" y="215.4" width="4.6" height="5" fill="#E6CBAE"/>
<rect x="405.6" y="216.9" width="3.4" height="2" fill="#231F20"/>
<rect x="404.4" y="227.5" width="4.6" height="5" fill="#E6CBAE"/>
<rect x="405.6" y="229.0" width="3.4" height="2" fill="#231F20"/>
<rect x="404.4" y="239.6" width="4.6" height="5" fill="#E6CBAE"/>
<rect x="405.6" y="241.1" width="3.4" height="2" fill="#231F20"/>
<rect x="404.4" y="251.7" width="4.6" height="5" fill="#E6CBAE"/>
<rect x="405.6" y="253.2" width="3.4" height="2" fill="#231F20"/>
<rect x="404.4" y="263.8" width="4.6" height="5" fill="#E6CBAE"/>
<rect x="405.6" y="265.3" width="3.4" height="2" fill="#231F20"/>
<rect x="404.4" y="275.9" width="4.6" height="5" fill="#E6CBAE"/>
<rect x="405.6" y="277.4" width="3.4" height="2" fill="#231F20"/>
<path d="M489.4,214.7 H524 V229.3 H503.5 V243.9 H524 V258.5 H503.5 V273 H523.5 V288" fill="none" stroke="#C9A23C" stroke-width="1.7"/>
<path d="M496,214.7 V257" fill="none" stroke="#C9A23C" stroke-width="1.7"/>
<path d="M455,226 A7.6,7.6 0 1 1 455,234" fill="none" stroke="#E8E8E8" stroke-width="3.4"/>
<circle cx="461.6" cy="230" r="2" fill="#E8E8E8"/>
<rect x="450" y="229" width="10" height="2.2" fill="#E8E8E8"/>
<rect x="478.6" y="220.5" width="3" height="19.8" fill="#E8E8E8"/>
<rect x="471.5" y="237.5" width="9" height="2.8" fill="#E8E8E8"/>
<rect x="473" y="229.5" width="7" height="2.6" fill="#E8E8E8"/>
<rect x="424" y="222" width="26" height="2.2" fill="#8E8E8E" opacity="0.9"/>
<rect x="423" y="229" width="27" height="2.2" fill="#8E8E8E" opacity="0.9"/>
<rect x="423" y="236" width="27" height="2.2" fill="#8E8E8E" opacity="0.9"/>
<rect x="418" y="243" width="32" height="2.2" fill="#8E8E8E" opacity="0.9"/>
<rect x="418" y="250" width="32" height="2.2" fill="#8E8E8E" opacity="0.9"/>
<rect x="460" y="245" width="21" height="2.2" fill="#8E8E8E" opacity="0.9"/>
<rect x="460" y="252" width="21" height="2.2" fill="#8E8E8E" opacity="0.9"/>
<rect x="414" y="258.7" width="37.3" height="16.8" rx="5" fill="#ABABAB"/>
<rect x="416.5" y="261" width="15" height="12.2" rx="3" fill="#3A3A3A"/>
<text x="0" y="0" font-size="9" font-weight="bold" fill="#ABABAB" text-anchor="middle" transform="translate(424,262.6) rotate(180)">Fi</text>
<text x="0" y="0" font-size="9" font-weight="bold" fill="#3A3A3A" text-anchor="middle" transform="translate(441.5,262.6) rotate(180)">wi</text>
<circle cx="472.6" cy="266.7" r="8.8" fill="#A8A8A8"/>
<path d="M466,263 Q473,259 480,266 M465,267.5 Q473,263 479,271 M466.5,272 Q472,268 476,274" stroke="#333" stroke-width="1.3" fill="none"/>
<rect x="488.8" y="278" width="3" height="4.2" fill="#DDD"/>
<text x="0" y="0" font-size="5.5" fill="#CFCFCF" font-family="Liberation Mono" text-anchor="middle" transform="translate(316,282) rotate(180)">NYARAFUN</text>
<path d="M335,288 L338,277 L340,282 L343,276 L341,288 Z" fill="#BDBDBD"/>
<rect x="274" y="437.4" width="217.8" height="108" rx="3" fill="#2D5AA5"/>
<circle cx="437.5" cy="437.5" r="7.2" fill="#2D5AA5"/>
<circle cx="437.5" cy="437.5" r="4.3" fill="#FFFFFF"/>
<circle cx="437.5" cy="545.3" r="7.2" fill="#2D5AA5"/>
<circle cx="437.5" cy="545.3" r="4.3" fill="#FFFFFF"/>
<circle cx="273" cy="490.2" r="7.4" fill="#2D5AA5"/>
<circle cx="273" cy="490.2" r="4.4" fill="#FFFFFF"/>
<circle cx="327.5" cy="437.3" r="6.6" fill="#FFFFFF"/>
<circle cx="327.5" cy="545.4" r="6.6" fill="#FFFFFF"/>
<circle cx="491.8" cy="491.2" r="6" fill="#FFFFFF"/>
<rect x="306.2" y="463.8" width="175.6" height="55.5" fill="#C8C8C8"/>
<rect x="306.2" y="463.8" width="174" height="53.7" fill="#383838"/>
<polygon points="323.1,468.0 342.1,468.0 343.3,469.5 338.1,473.5 325.1,473.5 321.3,469.5" fill="#E8201E"/>
<polygon points="344.1,471.0 340.9,488.5 338.1,490.5 335.5,488.0 337.8,475.0 342.7,470.0" fill="#D6D6D6"/>
<polygon points="340.2,492.5 337.0,510.0 335.3,511.5 332.2,506.5 334.6,493.0 338.1,490.5" fill="#D6D6D6"/>
<polygon points="319.0,507.5 332.0,507.5 335.8,511.5 334.0,513.0 315.0,513.0 313.8,511.5" fill="#E8201E"/>
<polygon points="314.2,492.5 317.1,490.5 319.6,493.0 317.2,506.5 312.3,511.5 311.0,510.0" fill="#E8201E"/>
<polygon points="318.1,471.0 319.7,470.0 322.8,475.0 320.5,488.0 317.1,490.5 314.9,488.5" fill="#E8201E"/>
<polygon points="317.6,490.5 320.5,488.0 335.5,488.0 337.6,490.5 334.6,493.0 319.6,493.0" fill="#D6D6D6"/>
<polygon points="366.1,468.0 385.1,468.0 386.3,469.5 381.1,473.5 368.1,473.5 364.3,469.5" fill="#E8201E"/>
<polygon points="387.1,471.0 383.9,488.5 381.1,490.5 378.5,488.0 380.8,475.0 385.7,470.0" fill="#E8201E"/>
<polygon points="383.2,492.5 380.0,510.0 378.3,511.5 375.2,506.5 377.6,493.0 381.1,490.5" fill="#E8201E"/>
<polygon points="362.0,507.5 375.0,507.5 378.8,511.5 377.0,513.0 358.0,513.0 356.8,511.5" fill="#E8201E"/>
<polygon points="357.2,492.5 360.1,490.5 362.6,493.0 360.2,506.5 355.3,511.5 354.0,510.0" fill="#E8201E"/>
<polygon points="361.1,471.0 362.7,470.0 365.8,475.0 363.5,488.0 360.1,490.5 357.9,488.5" fill="#E8201E"/>
<polygon points="360.6,490.5 363.5,488.0 378.5,488.0 380.6,490.5 377.6,493.0 362.6,493.0" fill="#D6D6D6"/>
<polygon points="411.6,468.0 430.6,468.0 431.8,469.5 426.6,473.5 413.6,473.5 409.8,469.5" fill="#E8201E"/>
<polygon points="432.6,471.0 429.4,488.5 426.6,490.5 424.0,488.0 426.3,475.0 431.2,470.0" fill="#D6D6D6"/>
<polygon points="428.7,492.5 425.5,510.0 423.8,511.5 420.7,506.5 423.1,493.0 426.6,490.5" fill="#D6D6D6"/>
<polygon points="407.5,507.5 420.5,507.5 424.3,511.5 422.5,513.0 403.5,513.0 402.3,511.5" fill="#E8201E"/>
<polygon points="402.7,492.5 405.6,490.5 408.1,493.0 405.7,506.5 400.8,511.5 399.5,510.0" fill="#E8201E"/>
<polygon points="406.6,471.0 408.2,470.0 411.3,475.0 409.0,488.0 405.6,490.5 403.4,488.5" fill="#E8201E"/>
<polygon points="406.1,490.5 409.0,488.0 424.0,488.0 426.1,490.5 423.1,493.0 408.1,493.0" fill="#D6D6D6"/>
<polygon points="455.1,468.0 474.1,468.0 475.3,469.5 470.1,473.5 457.1,473.5 453.3,469.5" fill="#E8201E"/>
<polygon points="476.1,471.0 472.9,488.5 470.1,490.5 467.5,488.0 469.8,475.0 474.7,470.0" fill="#E8201E"/>
<polygon points="472.2,492.5 469.0,510.0 467.3,511.5 464.2,506.5 466.6,493.0 470.1,490.5" fill="#E8201E"/>
<polygon points="451.0,507.5 464.0,507.5 467.8,511.5 466.0,513.0 447.0,513.0 445.8,511.5" fill="#E8201E"/>
<polygon points="446.2,492.5 449.1,490.5 451.6,493.0 449.2,506.5 444.3,511.5 443.0,510.0" fill="#E8201E"/>
<polygon points="450.1,471.0 451.7,470.0 454.8,475.0 452.5,488.0 449.1,490.5 446.9,488.5" fill="#E8201E"/>
<polygon points="449.6,490.5 452.5,488.0 467.5,488.0 469.6,490.5 466.6,493.0 451.6,493.0" fill="#D6D6D6"/>
<circle cx="394.4" cy="480" r="2.6" fill="#D6D6D6"/>
<circle cx="391.1" cy="500.7" r="2.6" fill="#D6D6D6"/>
<text x="348.5" y="535" font-size="8.2" fill="#E6E6F0" font-family="Liberation Mono" letter-spacing="0.6">4 Digit Display</text>
<text x="288.5" y="479.5" font-size="7.4" fill="#E6E6F0" font-family="Liberation Mono">CLK</text>
<text x="288.5" y="490.4" font-size="7.4" fill="#E6E6F0" font-family="Liberation Mono">DIO</text>
<text x="288.5" y="501.3" font-size="7.4" fill="#E6E6F0" font-family="Liberation Mono">GND</text>
<text x="288.5" y="512.2" font-size="7.4" fill="#E6E6F0" font-family="Liberation Mono">VCC</text>
<polyline points="48.40,111.70 312.30,113.50" fill="none" stroke="#C8C400" stroke-width="6.2" stroke-linecap="round" stroke-linejoin="round"/>
<polyline points="48.40,111.70 312.30,113.50" fill="none" stroke="#F3F300" stroke-width="4.4" stroke-linecap="round" stroke-linejoin="round"/>
<circle cx="48.40" cy="111.70" r="2.40" fill="#A8E040"/>
<circle cx="312.30" cy="113.50" r="2.40" fill="#A8E040"/>
<polyline points="326.20,113.50 303.70,169.10" fill="none" stroke="#7A0E0E" stroke-width="6.3999999999999995" stroke-linecap="round" stroke-linejoin="round"/>
<polyline points="326.20,113.50 303.70,169.10" fill="none" stroke="#D01616" stroke-width="4.6" stroke-linecap="round" stroke-linejoin="round"/>
<circle cx="326.20" cy="113.50" r="2.50" fill="#B04A14"/>
<circle cx="303.70" cy="169.10" r="2.50" fill="#B04A14"/>
<polyline points="603.70,127.30 581.20,168.90" fill="none" stroke="#111111" stroke-width="6.1" stroke-linecap="round" stroke-linejoin="round"/>
<polyline points="603.70,127.30 581.20,168.90" fill="none" stroke="#2B2B2B" stroke-width="4.3" stroke-linecap="round" stroke-linejoin="round"/>
<circle cx="603.70" cy="127.30" r="2.35" fill="#1E5A22"/>
<circle cx="581.20" cy="168.90" r="2.35" fill="#1E5A22"/>
<polyline points="669.30,28.00 636.60,168.90" fill="none" stroke="#1E5FA8" stroke-width="6.0" stroke-linecap="round" stroke-linejoin="round"/>
<polyline points="669.30,28.00 636.60,168.90" fill="none" stroke="#3A87DA" stroke-width="4.2" stroke-linecap="round" stroke-linejoin="round"/>
<circle cx="669.30" cy="28.00" r="2.30" fill="#2E9AAA"/>
<circle cx="636.60" cy="168.90" r="2.30" fill="#2E9AAA"/>
<polyline points="636.60,210.60 607.70,266.10" fill="none" stroke="#1E5FA8" stroke-width="6.0" stroke-linecap="round" stroke-linejoin="round"/>
<polyline points="636.60,210.60 607.70,266.10" fill="none" stroke="#3A87DA" stroke-width="4.2" stroke-linecap="round" stroke-linejoin="round"/>
<circle cx="636.60" cy="210.60" r="2.30" fill="#2E9AAA"/>
<circle cx="607.70" cy="266.10" r="2.30" fill="#2E9AAA"/>
<polyline points="700.70,127.40 700.70,377.00" fill="none" stroke="#111111" stroke-width="6.1" stroke-linecap="round" stroke-linejoin="round"/>
<polyline points="700.70,127.40 700.70,377.00" fill="none" stroke="#2B2B2B" stroke-width="4.3" stroke-linecap="round" stroke-linejoin="round"/>
<circle cx="700.70" cy="127.40" r="2.35" fill="#1E5A22"/>
<circle cx="700.70" cy="377.00" r="2.35" fill="#1E5A22"/>
<polyline points="539.70,196.70 567.40,196.70" fill="none" stroke="#111111" stroke-width="6.1" stroke-linecap="round" stroke-linejoin="round"/>
<polyline points="539.70,196.70 567.40,196.70" fill="none" stroke="#2B2B2B" stroke-width="4.3" stroke-linecap="round" stroke-linejoin="round"/>
<circle cx="539.70" cy="196.70" r="2.35" fill="#1E5A22"/>
<circle cx="567.40" cy="196.70" r="2.35" fill="#1E5A22"/>
<polyline points="553.50,210.60 595.20,210.60" fill="none" stroke="#7A0E0E" stroke-width="6.1" stroke-linecap="round" stroke-linejoin="round"/>
<polyline points="553.50,210.60 595.20,210.60" fill="none" stroke="#D01616" stroke-width="4.3" stroke-linecap="round" stroke-linejoin="round"/>
<circle cx="553.50" cy="210.60" r="2.35" fill="#B04A14"/>
<circle cx="595.20" cy="210.60" r="2.35" fill="#B04A14"/>
<polyline points="539.70,224.50 539.70,266.10" fill="none" stroke="#111111" stroke-width="6.1" stroke-linecap="round" stroke-linejoin="round"/>
<polyline points="539.70,224.50 539.70,266.10" fill="none" stroke="#2B2B2B" stroke-width="4.3" stroke-linecap="round" stroke-linejoin="round"/>
<circle cx="539.70" cy="224.50" r="2.35" fill="#1E5A22"/>
<circle cx="539.70" cy="266.10" r="2.35" fill="#1E5A22"/>
<polyline points="595.20,224.50 595.20,266.10" fill="none" stroke="#7A0E0E" stroke-width="6.1" stroke-linecap="round" stroke-linejoin="round"/>
<polyline points="595.20,224.50 595.20,266.10" fill="none" stroke="#D01616" stroke-width="4.3" stroke-linecap="round" stroke-linejoin="round"/>
<circle cx="595.20" cy="224.50" r="2.35" fill="#B04A14"/>
<circle cx="595.20" cy="266.10" r="2.35" fill="#B04A14"/>
<polyline points="678.50,224.50 678.50,266.10" fill="none" stroke="#111111" stroke-width="6.1" stroke-linecap="round" stroke-linejoin="round"/>
<polyline points="678.50,224.50 678.50,266.10" fill="none" stroke="#2B2B2B" stroke-width="4.3" stroke-linecap="round" stroke-linejoin="round"/>
<circle cx="678.50" cy="224.50" r="2.35" fill="#1E5A22"/>
<circle cx="678.50" cy="266.10" r="2.35" fill="#1E5A22"/>
<polyline points="623.00,293.40 650.80,293.40" fill="none" stroke="#7A0E0E" stroke-width="6.1" stroke-linecap="round" stroke-linejoin="round"/>
<polyline points="623.00,293.40 650.80,293.40" fill="none" stroke="#D01616" stroke-width="4.3" stroke-linecap="round" stroke-linejoin="round"/>
<circle cx="623.00" cy="293.40" r="2.35" fill="#B04A14"/>
<circle cx="650.80" cy="293.40" r="2.35" fill="#B04A14"/>
<polyline points="650.80,307.30 678.50,307.30" fill="none" stroke="#7A0E0E" stroke-width="6.1" stroke-linecap="round" stroke-linejoin="round"/>
<polyline points="650.80,307.30 678.50,307.30" fill="none" stroke="#D01616" stroke-width="4.3" stroke-linecap="round" stroke-linejoin="round"/>
<circle cx="650.80" cy="307.30" r="2.35" fill="#B04A14"/>
<circle cx="678.50" cy="307.30" r="2.35" fill="#B04A14"/>
<polyline points="484.10,321.20 539.70,321.20" fill="none" stroke="#111111" stroke-width="6.1" stroke-linecap="round" stroke-linejoin="round"/>
<polyline points="484.10,321.20 539.70,321.20" fill="none" stroke="#2B2B2B" stroke-width="4.3" stroke-linecap="round" stroke-linejoin="round"/>
<circle cx="484.10" cy="321.20" r="2.35" fill="#1E5A22"/>
<circle cx="539.70" cy="321.20" r="2.35" fill="#1E5A22"/>
<polyline points="567.40,321.20 575.60,377.00" fill="none" stroke="#111111" stroke-width="6.1" stroke-linecap="round" stroke-linejoin="round"/>
<polyline points="567.40,321.20 575.60,377.00" fill="none" stroke="#2B2B2B" stroke-width="4.3" stroke-linecap="round" stroke-linejoin="round"/>
<circle cx="567.40" cy="321.20" r="2.35" fill="#1E5A22"/>
<circle cx="575.60" cy="377.00" r="2.35" fill="#1E5A22"/>
<polyline points="595.20,321.20 603.30,363.40" fill="none" stroke="#7A0E0E" stroke-width="6.1" stroke-linecap="round" stroke-linejoin="round"/>
<polyline points="595.20,321.20 603.30,363.40" fill="none" stroke="#D01616" stroke-width="4.3" stroke-linecap="round" stroke-linejoin="round"/>
<circle cx="595.20" cy="321.20" r="2.35" fill="#B04A14"/>
<circle cx="603.30" cy="363.40" r="2.35" fill="#B04A14"/>
<polyline points="650.80,321.20 645.30,363.40" fill="none" stroke="#7A0E0E" stroke-width="6.1" stroke-linecap="round" stroke-linejoin="round"/>
<polyline points="650.80,321.20 645.30,363.40" fill="none" stroke="#D01616" stroke-width="4.3" stroke-linecap="round" stroke-linejoin="round"/>
<circle cx="650.80" cy="321.20" r="2.35" fill="#B04A14"/>
<circle cx="645.30" cy="363.40" r="2.35" fill="#B04A14"/>
<polyline points="49.40,376.80 312.30,377.10" fill="none" stroke="#111111" stroke-width="6.0" stroke-linecap="round" stroke-linejoin="round"/>
<polyline points="49.40,376.80 312.30,377.10" fill="none" stroke="#2B2B2B" stroke-width="4.2" stroke-linecap="round" stroke-linejoin="round"/>
<circle cx="49.40" cy="376.80" r="2.30" fill="#1E5A22"/>
<circle cx="312.30" cy="377.10" r="2.30" fill="#1E5A22"/>
<polyline points="317.70,321.20 325.80,377.10" fill="none" stroke="#111111" stroke-width="6.1" stroke-linecap="round" stroke-linejoin="round"/>
<polyline points="317.70,321.20 325.80,377.10" fill="none" stroke="#2B2B2B" stroke-width="4.3" stroke-linecap="round" stroke-linejoin="round"/>
<circle cx="317.70" cy="321.20" r="2.35" fill="#1E5A22"/>
<circle cx="325.80" cy="377.10" r="2.35" fill="#1E5A22"/>
<polyline points="372.90,321.20 312.80,417.60 284.40,476.60" fill="none" stroke="#8C8C8C" stroke-width="5.6" stroke-linecap="round" stroke-linejoin="round"/>
<polyline points="372.90,321.20 312.80,417.60 284.40,476.60" fill="none" stroke="#FFFFFF" stroke-width="3.8" stroke-linecap="round" stroke-linejoin="round"/>
<circle cx="372.90" cy="321.20" r="2.10" fill="#B8E8B8"/>
<circle cx="284.40" cy="476.60" r="2.10" fill="#B8E8B8"/>
<polyline points="386.90,321.20 326.70,446.60 284.40,488.00" fill="none" stroke="#C8C400" stroke-width="6.0" stroke-linecap="round" stroke-linejoin="round"/>
<polyline points="386.90,321.20 326.70,446.60 284.40,488.00" fill="none" stroke="#F3F300" stroke-width="4.2" stroke-linecap="round" stroke-linejoin="round"/>
<circle cx="386.90" cy="321.20" r="2.30" fill="#A8E040"/>
<circle cx="284.40" cy="488.00" r="2.30" fill="#A8E040"/>
<polyline points="284.40,509.20 228.80,514.70 228.80,571.40 520.60,571.40 520.60,363.40" fill="none" stroke="#7A0E0E" stroke-width="5.4" stroke-linecap="round" stroke-linejoin="round"/>
<polyline points="284.40,509.20 228.80,514.70 228.80,571.40 520.60,571.40 520.60,363.40" fill="none" stroke="#D01616" stroke-width="3.6" stroke-linecap="round" stroke-linejoin="round"/>
<circle cx="284.40" cy="509.20" r="2.00" fill="#B04A14"/>
<circle cx="520.60" cy="363.40" r="2.00" fill="#B04A14"/>
<polyline points="284.40,498.80 214.80,501.20 214.80,585.20 534.50,585.20 534.50,377.10" fill="none" stroke="#111111" stroke-width="5.4" stroke-linecap="round" stroke-linejoin="round"/>
<polyline points="284.40,498.80 214.80,501.20 214.80,585.20 534.50,585.20 534.50,377.10" fill="none" stroke="#2B2B2B" stroke-width="3.6" stroke-linecap="round" stroke-linejoin="round"/>
<circle cx="284.40" cy="498.80" r="2.00" fill="#1E5A22"/>
<circle cx="534.50" cy="377.10" r="2.00" fill="#1E5A22"/>
<rect x="2" y="38.7" width="85.5" height="39.5" fill="#FDE5C8"/>
<polygon points="77.5,38.7 87.5,48.7 87.5,38.7" fill="#fff"/>
<polygon points="77.5,38.7 87.5,48.7 77.5,48.7" fill="#F5B449"/>
<rect x="2" y="78.2" width="85.5" height="10.5" fill="#F7BA47"/>
<rect x="83.5" y="79.7" width="1.6" height="1.6" fill="#D99A3A"/>
<rect x="80.5" y="82.7" width="1.6" height="1.6" fill="#D99A3A"/>
<rect x="83.5" y="82.7" width="1.6" height="1.6" fill="#D99A3A"/>
<rect x="77.5" y="85.7" width="1.6" height="1.6" fill="#D99A3A"/>
<rect x="80.5" y="85.7" width="1.6" height="1.6" fill="#D99A3A"/>
<rect x="83.5" y="85.7" width="1.6" height="1.6" fill="#D99A3A"/>
<text x="13.6" y="62.9" font-size="13.3" fill="#2A2622" stroke="#2A2622" stroke-width="0.18" textLength="50.2" lengthAdjust="spacingAndGlyphs" >VCC 12V</text>
<rect x="362.8" y="44.2" width="63.0" height="39.8" fill="#FDE5C8"/>
<polygon points="415.8,44.2 425.8,54.2 425.8,44.2" fill="#fff"/>
<polygon points="415.8,44.2 425.8,54.2 415.8,54.2" fill="#F5B449"/>
<rect x="362.8" y="84" width="63.0" height="10.400000000000006" fill="#F7BA47"/>
<rect x="421.8" y="85.4" width="1.6" height="1.6" fill="#D99A3A"/>
<rect x="418.8" y="88.4" width="1.6" height="1.6" fill="#D99A3A"/>
<rect x="421.8" y="88.4" width="1.6" height="1.6" fill="#D99A3A"/>
<rect x="415.8" y="91.4" width="1.6" height="1.6" fill="#D99A3A"/>
<rect x="418.8" y="91.4" width="1.6" height="1.6" fill="#D99A3A"/>
<rect x="421.8" y="91.4" width="1.6" height="1.6" fill="#D99A3A"/>
<text x="374.3" y="68.9" font-size="13.3" fill="#2A2622" stroke="#2A2622" stroke-width="0.18" textLength="33" lengthAdjust="spacingAndGlyphs" >470Ω</text>
<rect x="452.7" y="15.9" width="182.8" height="62.800000000000004" fill="#FDE5C8"/>
<polygon points="625.5,15.9 635.5,25.9 635.5,15.9" fill="#fff"/>
<polygon points="625.5,15.9 635.5,25.9 625.5,25.9" fill="#F5B449"/>
<rect x="452.7" y="78.7" width="182.8" height="10.5" fill="#F7BA47"/>
<rect x="631.5" y="80.2" width="1.6" height="1.6" fill="#D99A3A"/>
<rect x="628.5" y="83.2" width="1.6" height="1.6" fill="#D99A3A"/>
<rect x="631.5" y="83.2" width="1.6" height="1.6" fill="#D99A3A"/>
<rect x="625.5" y="86.2" width="1.6" height="1.6" fill="#D99A3A"/>
<rect x="628.5" y="86.2" width="1.6" height="1.6" fill="#D99A3A"/>
<rect x="631.5" y="86.2" width="1.6" height="1.6" fill="#D99A3A"/>
<text x="464.8" y="40.4" font-size="13.3" fill="#2A2622" stroke="#2A2622" stroke-width="0.18" textLength="122.6" lengthAdjust="spacingAndGlyphs" ><tspan stroke-width="0" fill="#3A3530">鉭質電容</tspan>0.1μF / 35V</text>
<text x="464.8" y="60.5" font-size="13.3" fill="#2A2622" stroke="#2A2622" stroke-width="0.18" textLength="137.8" lengthAdjust="spacingAndGlyphs" ><tspan stroke-width="0" fill="#3A3530">這顆不接應該也是可以</tspan></text>
<rect x="683.3" y="-1" width="216.4000000000001" height="43.9" fill="#FDE5C8"/>
<polygon points="889.7,-1 899.7,9 899.7,-1" fill="#fff"/>
<polygon points="889.7,-1 899.7,9 889.7,9" fill="#F5B449"/>
<rect x="683.3" y="42.9" width="216.4000000000001" height="10.399999999999999" fill="#F7BA47"/>
<rect x="895.7" y="44.3" width="1.6" height="1.6" fill="#D99A3A"/>
<rect x="892.7" y="47.3" width="1.6" height="1.6" fill="#D99A3A"/>
<rect x="895.7" y="47.3" width="1.6" height="1.6" fill="#D99A3A"/>
<rect x="889.7" y="50.3" width="1.6" height="1.6" fill="#D99A3A"/>
<rect x="892.7" y="50.3" width="1.6" height="1.6" fill="#D99A3A"/>
<rect x="895.7" y="50.3" width="1.6" height="1.6" fill="#D99A3A"/>
<text x="695.8" y="25.5" font-size="13.3" fill="#2A2622" stroke="#2A2622" stroke-width="0.18" textLength="187.5" lengthAdjust="spacingAndGlyphs" ><tspan stroke-width="0" fill="#3A3530">接脈衝訊號</tspan>(<tspan stroke-width="0" fill="#3A3530">凸台</tspan>)<tspan stroke-width="0" fill="#3A3530">，或轉速訊號</tspan></text>
<rect x="737" y="90" width="98.60000000000002" height="43" fill="#FDE5C8"/>
<polygon points="825.6,90 835.6,100 835.6,90" fill="#fff"/>
<polygon points="825.6,90 835.6,100 825.6,100" fill="#F5B449"/>
<rect x="737" y="133" width="98.60000000000002" height="9.699999999999989" fill="#F7BA47"/>
<rect x="831.6" y="133.7" width="1.6" height="1.6" fill="#D99A3A"/>
<rect x="828.6" y="136.7" width="1.6" height="1.6" fill="#D99A3A"/>
<rect x="831.6" y="136.7" width="1.6" height="1.6" fill="#D99A3A"/>
<rect x="825.6" y="139.7" width="1.6" height="1.6" fill="#D99A3A"/>
<rect x="828.6" y="139.7" width="1.6" height="1.6" fill="#D99A3A"/>
<rect x="831.6" y="139.7" width="1.6" height="1.6" fill="#D99A3A"/>
<text x="749.7" y="114.4" font-size="13.3" fill="#2A2622" stroke="#2A2622" stroke-width="0.18" textLength="67.6" lengthAdjust="spacingAndGlyphs" ><tspan stroke-width="0" fill="#3A3530">上排為</tspan> 12V</text>
<rect x="737" y="150.6" width="63.799999999999955" height="39.599999999999994" fill="#FDE5C8"/>
<polygon points="790.8,150.6 800.8,160.6 800.8,150.6" fill="#fff"/>
<polygon points="790.8,150.6 800.8,160.6 790.8,160.6" fill="#F5B449"/>
<rect x="737" y="190.2" width="63.799999999999955" height="10.300000000000011" fill="#F7BA47"/>
<rect x="796.8" y="191.5" width="1.6" height="1.6" fill="#D99A3A"/>
<rect x="793.8" y="194.5" width="1.6" height="1.6" fill="#D99A3A"/>
<rect x="796.8" y="194.5" width="1.6" height="1.6" fill="#D99A3A"/>
<rect x="790.8" y="197.5" width="1.6" height="1.6" fill="#D99A3A"/>
<rect x="793.8" y="197.5" width="1.6" height="1.6" fill="#D99A3A"/>
<rect x="796.8" y="197.5" width="1.6" height="1.6" fill="#D99A3A"/>
<text x="750" y="174.7" font-size="13.3" fill="#2A2622" stroke="#2A2622" stroke-width="0.18" textLength="32.7" lengthAdjust="spacingAndGlyphs" >330Ω</text>
<rect x="737" y="231" width="61.5" height="39.19999999999999" fill="#FDE5C8"/>
<polygon points="788.5,231 798.5,241 798.5,231" fill="#fff"/>
<polygon points="788.5,231 798.5,241 788.5,241" fill="#F5B449"/>
<rect x="737" y="270.2" width="61.5" height="10.300000000000011" fill="#F7BA47"/>
<rect x="794.5" y="271.5" width="1.6" height="1.6" fill="#D99A3A"/>
<rect x="791.5" y="274.5" width="1.6" height="1.6" fill="#D99A3A"/>
<rect x="794.5" y="274.5" width="1.6" height="1.6" fill="#D99A3A"/>
<rect x="788.5" y="277.5" width="1.6" height="1.6" fill="#D99A3A"/>
<rect x="791.5" y="277.5" width="1.6" height="1.6" fill="#D99A3A"/>
<rect x="794.5" y="277.5" width="1.6" height="1.6" fill="#D99A3A"/>
<text x="749" y="254.3" font-size="13.3" fill="#2A2622" stroke="#2A2622" stroke-width="0.18" textLength="37" lengthAdjust="spacingAndGlyphs" >PC817</text>
<rect x="126" y="220" width="108.6" height="40.19999999999999" fill="#FDE5C8"/>
<polygon points="224.6,220 234.6,230 234.6,220" fill="#fff"/>
<polygon points="224.6,220 234.6,230 224.6,230" fill="#F5B449"/>
<rect x="126" y="260.2" width="108.6" height="10.199999999999989" fill="#F7BA47"/>
<rect x="230.6" y="261.4" width="1.6" height="1.6" fill="#D99A3A"/>
<rect x="227.6" y="264.4" width="1.6" height="1.6" fill="#D99A3A"/>
<rect x="230.6" y="264.4" width="1.6" height="1.6" fill="#D99A3A"/>
<rect x="224.6" y="267.4" width="1.6" height="1.6" fill="#D99A3A"/>
<rect x="227.6" y="267.4" width="1.6" height="1.6" fill="#D99A3A"/>
<rect x="230.6" y="267.4" width="1.6" height="1.6" fill="#D99A3A"/>
<text x="138.9" y="243.3" font-size="13.3" fill="#2A2622" stroke="#2A2622" stroke-width="0.18" textLength="77.8" lengthAdjust="spacingAndGlyphs" >Nodemcu V2</text>
<rect x="-1" y="309.6" width="67.4" height="40.099999999999966" fill="#FDE5C8"/>
<polygon points="56.400000000000006,309.6 66.4,319.6 66.4,309.6" fill="#fff"/>
<polygon points="56.400000000000006,309.6 66.4,319.6 56.400000000000006,319.6" fill="#F5B449"/>
<rect x="-1" y="349.7" width="67.4" height="9.900000000000034" fill="#F7BA47"/>
<rect x="62.400000000000006" y="350.6" width="1.6" height="1.6" fill="#D99A3A"/>
<rect x="59.400000000000006" y="353.6" width="1.6" height="1.6" fill="#D99A3A"/>
<rect x="62.400000000000006" y="353.6" width="1.6" height="1.6" fill="#D99A3A"/>
<rect x="56.400000000000006" y="356.6" width="1.6" height="1.6" fill="#D99A3A"/>
<rect x="59.400000000000006" y="356.6" width="1.6" height="1.6" fill="#D99A3A"/>
<rect x="62.400000000000006" y="356.6" width="1.6" height="1.6" fill="#D99A3A"/>
<text x="12.7" y="333.0" font-size="13.3" fill="#2A2622" stroke="#2A2622" stroke-width="0.18" textLength="27.3" lengthAdjust="spacingAndGlyphs" >GND</text>
<rect x="738.7" y="337" width="94.0" height="42.69999999999999" fill="#FDE5C8"/>
<polygon points="822.7,337 832.7,347 832.7,337" fill="#fff"/>
<polygon points="822.7,337 832.7,347 822.7,347" fill="#F5B449"/>
<rect x="738.7" y="379.7" width="94.0" height="10.600000000000023" fill="#F7BA47"/>
<rect x="828.7" y="381.3" width="1.6" height="1.6" fill="#D99A3A"/>
<rect x="825.7" y="384.3" width="1.6" height="1.6" fill="#D99A3A"/>
<rect x="828.7" y="384.3" width="1.6" height="1.6" fill="#D99A3A"/>
<rect x="822.7" y="387.3" width="1.6" height="1.6" fill="#D99A3A"/>
<rect x="825.7" y="387.3" width="1.6" height="1.6" fill="#D99A3A"/>
<rect x="828.7" y="387.3" width="1.6" height="1.6" fill="#D99A3A"/>
<text x="747.3" y="361.7" font-size="13.3" fill="#2A2622" stroke="#2A2622" stroke-width="0.18" textLength="59.7" lengthAdjust="spacingAndGlyphs" ><tspan stroke-width="0" fill="#3A3530">下排為</tspan> 5V</text>
<rect x="576" y="406" width="98.39999999999998" height="40.80000000000001" fill="#FDE5C8"/>
<polygon points="664.4,406 674.4,416 674.4,406" fill="#fff"/>
<polygon points="664.4,406 674.4,416 664.4,416" fill="#F5B449"/>
<rect x="576" y="446.8" width="98.39999999999998" height="10.399999999999977" fill="#F7BA47"/>
<rect x="670.4" y="448.2" width="1.6" height="1.6" fill="#D99A3A"/>
<rect x="667.4" y="451.2" width="1.6" height="1.6" fill="#D99A3A"/>
<rect x="670.4" y="451.2" width="1.6" height="1.6" fill="#D99A3A"/>
<rect x="664.4" y="454.2" width="1.6" height="1.6" fill="#D99A3A"/>
<rect x="667.4" y="454.2" width="1.6" height="1.6" fill="#D99A3A"/>
<rect x="670.4" y="454.2" width="1.6" height="1.6" fill="#D99A3A"/>
<text x="588" y="428.7" font-size="13.3" fill="#2A2622" stroke="#2A2622" stroke-width="0.18" textLength="56.9" lengthAdjust="spacingAndGlyphs" ><tspan stroke-width="0" fill="#3A3530">基納</tspan> 5.1V</text>
<rect x="687" y="406" width="62.299999999999955" height="39.39999999999998" fill="#FDE5C8"/>
<polygon points="739.3,406 749.3,416 749.3,406" fill="#fff"/>
<polygon points="739.3,406 749.3,416 739.3,416" fill="#F5B449"/>
<rect x="687" y="445.4" width="62.299999999999955" height="10.100000000000023" fill="#F7BA47"/>
<rect x="745.3" y="446.5" width="1.6" height="1.6" fill="#D99A3A"/>
<rect x="742.3" y="449.5" width="1.6" height="1.6" fill="#D99A3A"/>
<rect x="745.3" y="449.5" width="1.6" height="1.6" fill="#D99A3A"/>
<rect x="739.3" y="452.5" width="1.6" height="1.6" fill="#D99A3A"/>
<rect x="742.3" y="452.5" width="1.6" height="1.6" fill="#D99A3A"/>
<rect x="745.3" y="452.5" width="1.6" height="1.6" fill="#D99A3A"/>
<text x="699" y="429.2" font-size="13.3" fill="#2A2622" stroke="#2A2622" stroke-width="0.18" textLength="33" lengthAdjust="spacingAndGlyphs" >470Ω</text>
<rect x="570.4" y="462.8" width="61.80000000000007" height="39.19999999999999" fill="#FDE5C8"/>
<polygon points="622.2,462.8 632.2,472.8 632.2,462.8" fill="#fff"/>
<polygon points="622.2,462.8 632.2,472.8 622.2,472.8" fill="#F5B449"/>
<rect x="570.4" y="502" width="61.80000000000007" height="10.200000000000045" fill="#F7BA47"/>
<rect x="628.2" y="503.20000000000005" width="1.6" height="1.6" fill="#D99A3A"/>
<rect x="625.2" y="506.20000000000005" width="1.6" height="1.6" fill="#D99A3A"/>
<rect x="628.2" y="506.20000000000005" width="1.6" height="1.6" fill="#D99A3A"/>
<rect x="622.2" y="509.20000000000005" width="1.6" height="1.6" fill="#D99A3A"/>
<rect x="625.2" y="509.20000000000005" width="1.6" height="1.6" fill="#D99A3A"/>
<rect x="628.2" y="509.20000000000005" width="1.6" height="1.6" fill="#D99A3A"/>
<text x="582.7" y="486.3" font-size="13.3" fill="#2A2622" stroke="#2A2622" stroke-width="0.18" textLength="32.3" lengthAdjust="spacingAndGlyphs" >220Ω</text>
<rect x="661.8" y="468" width="225.4000000000001" height="133.79999999999995" fill="#FDE5C8"/>
<polygon points="877.2,468 887.2,478 887.2,468" fill="#fff"/>
<polygon points="877.2,468 887.2,478 877.2,478" fill="#F5B449"/>
<rect x="661.8" y="601.8" width="225.4000000000001" height="10.200000000000045" fill="#F7BA47"/>
<rect x="883.2" y="603" width="1.6" height="1.6" fill="#D99A3A"/>
<rect x="880.2" y="606" width="1.6" height="1.6" fill="#D99A3A"/>
<rect x="883.2" y="606" width="1.6" height="1.6" fill="#D99A3A"/>
<rect x="877.2" y="609" width="1.6" height="1.6" fill="#D99A3A"/>
<rect x="880.2" y="609" width="1.6" height="1.6" fill="#D99A3A"/>
<rect x="883.2" y="609" width="1.6" height="1.6" fill="#D99A3A"/>
<text x="674.3" y="493.0" font-size="13.3" fill="#2A2622" stroke="#2A2622" stroke-width="0.18" textLength="148.4" lengthAdjust="spacingAndGlyphs" ><tspan stroke-width="0" fill="#3A3530">七段數位轉速表</tspan> TM1637</text>
<text x="674.3" y="512.8" font-size="13.3" fill="#2A2622" stroke="#2A2622" stroke-width="0.18" textLength="49.4" lengthAdjust="spacingAndGlyphs" >CLK : D7</text>
<text x="674.3" y="529.3" font-size="13.3" fill="#2A2622" stroke="#2A2622" stroke-width="0.18" textLength="50.6" lengthAdjust="spacingAndGlyphs" >DIO : D6</text>
<text x="674.3" y="546.2" font-size="13.3" fill="#2A2622" stroke="#2A2622" stroke-width="0.18" textLength="186.3" lengthAdjust="spacingAndGlyphs" ><tspan stroke-width="0" fill="#3A3530">轉速訊號</tspan> : <tspan stroke-width="0" fill="#3A3530">透過</tspan> PC817 <tspan stroke-width="0" fill="#3A3530">接到</tspan> D1</text>
<text x="674.3" y="582.6" font-size="13.3" fill="#2A2622" stroke="#2A2622" stroke-width="0.18" textLength="175.3" lengthAdjust="spacingAndGlyphs" >By <tspan stroke-width="0" fill="#3A3530">羽山秋人</tspan> (https://3wa.tw)</text>
<rect x="116.9" y="76.6" width="761.3" height="70" rx="10" fill="none" stroke="#E1232B" stroke-width="3.7"/>
<rect x="612.7" y="58.5" width="123.8" height="345" rx="10" fill="none" stroke="#E1232B" stroke-width="3.7"/>
<rect x="120.1" y="328" width="775.3" height="73.8" rx="10" fill="none" stroke="#E1232B" stroke-width="3.7"/>
<text x="9" y="13.8" font-size="10.8" fill="#111" textLength="206" lengthAdjust="spacingAndGlyphs">3WA網頁開發教學工作室 - https://3wa.tw</text>
<text x="691" y="647.5" font-size="10.8" fill="#111" textLength="206" lengthAdjust="spacingAndGlyphs">3WA網頁開發教學工作室 - https://3wa.tw</text>
<text x="10.7" y="644.6" font-size="10.8" fill="#111" textLength="81" lengthAdjust="spacingAndGlyphs">載入時間:0.01 秒</text>
<text x="10.0" y="13.8" font-size="10.8" fill="#111" textLength="206" lengthAdjust="spacingAndGlyphs">3WA網頁開發教學工作室 - https://3wa.tw</text>
<text x="692.0" y="647.5" font-size="10.8" fill="#111" textLength="206" lengthAdjust="spacingAndGlyphs">3WA網頁開發教學工作室 - https://3wa.tw</text>
<text x="11.7" y="644.6" font-size="10.8" fill="#111" textLength="81" lengthAdjust="spacingAndGlyphs">載入時間:0.01 秒</text>
</svg>
</body></html>
